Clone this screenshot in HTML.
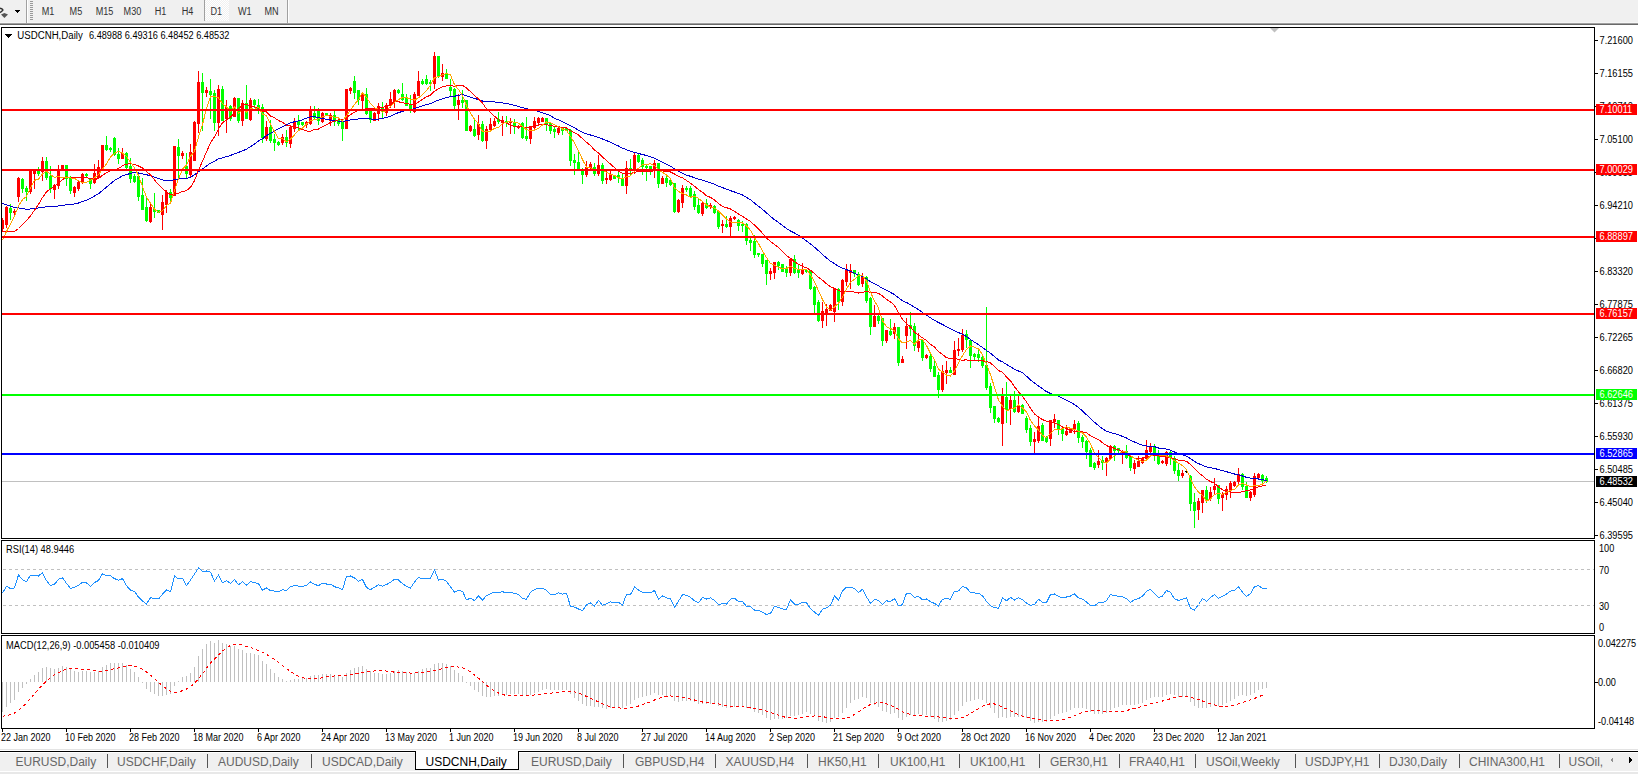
<!DOCTYPE html>
<html><head><meta charset="utf-8"><title>USDCNH,Daily</title>
<style>
html,body{margin:0;padding:0;background:#fff;width:1638px;height:774px;overflow:hidden}
svg{position:absolute;left:0;top:0;display:block}
text{font-family:"Liberation Sans", sans-serif}
</style></head><body>
<svg width="1638" height="774" viewBox="0 0 1638 774" shape-rendering="crispEdges">
<rect x="0" y="0" width="1638" height="23" fill="#f0f0f0"/><rect x="0" y="22" width="1638" height="1" fill="#f6f6f6"/><rect x="0" y="23" width="1638" height="1" fill="#a0a0a0"/><rect x="0" y="24" width="1638" height="1" fill="#696969"/><rect x="26" y="0" width="1" height="23" fill="#a0a0a0"/><rect x="27" y="0" width="1" height="23" fill="#ffffff"/><rect x="287" y="0" width="1" height="23" fill="#a0a0a0"/><rect x="288" y="0" width="1" height="23" fill="#ffffff"/><rect x="30" y="1" width="3" height="1" fill="#999"/><rect x="30" y="3" width="3" height="1" fill="#999"/><rect x="30" y="5" width="3" height="1" fill="#999"/><rect x="30" y="7" width="3" height="1" fill="#999"/><rect x="30" y="9" width="3" height="1" fill="#999"/><rect x="30" y="11" width="3" height="1" fill="#999"/><rect x="30" y="13" width="3" height="1" fill="#999"/><rect x="30" y="15" width="3" height="1" fill="#999"/><rect x="30" y="17" width="3" height="1" fill="#999"/><rect x="30" y="19" width="3" height="1" fill="#999"/><defs><pattern id="dith" width="2" height="2" patternUnits="userSpaceOnUse"><rect width="2" height="2" fill="#f0f0f0"/><rect width="1" height="1" fill="#ffffff"/><rect x="1" y="1" width="1" height="1" fill="#ffffff"/></pattern><clipPath id="mainclip"><rect x="2" y="28" width="1592" height="510"/></clipPath></defs><rect x="205" y="0" width="24" height="21" fill="url(#dith)"/><rect x="204" y="0" width="1" height="21" fill="#a0a0a0"/><path d="M15 10 L20 10 L17.5 13 Z" fill="#000"/><path d="M0 8.2 Q3.6 9.2 2.6 10.6 L0 12.6" fill="none" stroke="#333" stroke-width="1.4" shape-rendering="auto"/><path d="M1 14.4 L4.4 13 L8 14.4 L4.4 18 Z" fill="#555" shape-rendering="auto"/><rect x="1.5" y="27.5" width="1593" height="511" fill="none" stroke="#000" stroke-width="1"/><rect x="1.5" y="540.5" width="1593" height="93" fill="none" stroke="#000" stroke-width="1"/><rect x="1.5" y="635.5" width="1593" height="93" fill="none" stroke="#000" stroke-width="1"/><rect x="1595" y="40" width="3" height="1" fill="#000"/><rect x="1595" y="73" width="3" height="1" fill="#000"/><rect x="1595" y="106" width="3" height="1" fill="#000"/><rect x="1595" y="139" width="3" height="1" fill="#000"/><rect x="1595" y="172" width="3" height="1" fill="#000"/><rect x="1595" y="205" width="3" height="1" fill="#000"/><rect x="1595" y="238" width="3" height="1" fill="#000"/><rect x="1595" y="271" width="3" height="1" fill="#000"/><rect x="1595" y="304" width="3" height="1" fill="#000"/><rect x="1595" y="337" width="3" height="1" fill="#000"/><rect x="1595" y="370" width="3" height="1" fill="#000"/><rect x="1595" y="403" width="3" height="1" fill="#000"/><rect x="1595" y="436" width="3" height="1" fill="#000"/><rect x="1595" y="469" width="3" height="1" fill="#000"/><rect x="1595" y="502" width="3" height="1" fill="#000"/><rect x="1595" y="535" width="3" height="1" fill="#000"/><rect x="2" y="729" width="1" height="3" fill="#000"/><rect x="66" y="729" width="1" height="3" fill="#000"/><rect x="130" y="729" width="1" height="3" fill="#000"/><rect x="194" y="729" width="1" height="3" fill="#000"/><rect x="258" y="729" width="1" height="3" fill="#000"/><rect x="322" y="729" width="1" height="3" fill="#000"/><rect x="386" y="729" width="1" height="3" fill="#000"/><rect x="450" y="729" width="1" height="3" fill="#000"/><rect x="514" y="729" width="1" height="3" fill="#000"/><rect x="578" y="729" width="1" height="3" fill="#000"/><rect x="642" y="729" width="1" height="3" fill="#000"/><rect x="706" y="729" width="1" height="3" fill="#000"/><rect x="770" y="729" width="1" height="3" fill="#000"/><rect x="834" y="729" width="1" height="3" fill="#000"/><rect x="898" y="729" width="1" height="3" fill="#000"/><rect x="962" y="729" width="1" height="3" fill="#000"/><rect x="1026" y="729" width="1" height="3" fill="#000"/><rect x="1090" y="729" width="1" height="3" fill="#000"/><rect x="1154" y="729" width="1" height="3" fill="#000"/><rect x="1218" y="729" width="1" height="3" fill="#000"/><g stroke="#c0c0c0" stroke-width="1" stroke-dasharray="3,3"><line x1="3" y1="569.5" x2="1594" y2="569.5"/><line x1="3" y1="605.5" x2="1594" y2="605.5"/></g><rect x="1595" y="682" width="3" height="1" fill="#000"/><path d="M5 34 L12 34 L8.5 38 Z" fill="#000"/><path d="M1270 28 L1279 28 L1274.5 32.5 Z" fill="#c0c0c0" shape-rendering="auto"/><rect x="2" y="481" width="1592" height="1" fill="#c0c0c0"/>
<g clip-path="url(#mainclip)"><rect x="2" y="218" width="1" height="13" fill="#ff0000"/><rect x="1" y="220" width="3" height="9" fill="#ff0000"/><rect x="6" y="206" width="1" height="22" fill="#ff0000"/><rect x="5" y="207" width="3" height="18" fill="#ff0000"/><rect x="10" y="204" width="1" height="16" fill="#00ff00"/><rect x="9" y="208" width="3" height="5" fill="#00ff00"/><rect x="14" y="209" width="1" height="6" fill="#ff0000"/><rect x="13" y="211" width="3" height="2" fill="#ff0000"/><rect x="18" y="177" width="1" height="25" fill="#ff0000"/><rect x="17" y="178" width="3" height="19" fill="#ff0000"/><rect x="22" y="178" width="1" height="15" fill="#00ff00"/><rect x="21" y="179" width="3" height="10" fill="#00ff00"/><rect x="26" y="186" width="1" height="15" fill="#00ff00"/><rect x="25" y="188" width="3" height="4" fill="#00ff00"/><rect x="30" y="171" width="1" height="23" fill="#ff0000"/><rect x="29" y="171" width="3" height="21" fill="#ff0000"/><rect x="34" y="171" width="1" height="18" fill="#ff0000"/><rect x="33" y="171" width="3" height="3" fill="#ff0000"/><rect x="38" y="167" width="1" height="9" fill="#00ff00"/><rect x="37" y="170" width="3" height="4" fill="#00ff00"/><rect x="42" y="157" width="1" height="24" fill="#ff0000"/><rect x="41" y="161" width="3" height="11" fill="#ff0000"/><rect x="46" y="157" width="1" height="23" fill="#00ff00"/><rect x="45" y="161" width="3" height="17" fill="#00ff00"/><rect x="50" y="166" width="1" height="27" fill="#00ff00"/><rect x="49" y="176" width="3" height="13" fill="#00ff00"/><rect x="54" y="184" width="1" height="15" fill="#ff0000"/><rect x="53" y="185" width="3" height="5" fill="#ff0000"/><rect x="58" y="165" width="1" height="24" fill="#ff0000"/><rect x="57" y="170" width="3" height="16" fill="#ff0000"/><rect x="62" y="165" width="1" height="6" fill="#ff0000"/><rect x="61" y="165" width="3" height="6" fill="#ff0000"/><rect x="66" y="165" width="1" height="21" fill="#00ff00"/><rect x="65" y="165" width="3" height="14" fill="#00ff00"/><rect x="70" y="176" width="1" height="18" fill="#00ff00"/><rect x="69" y="177" width="3" height="14" fill="#00ff00"/><rect x="74" y="186" width="1" height="11" fill="#ff0000"/><rect x="73" y="187" width="3" height="6" fill="#ff0000"/><rect x="78" y="180" width="1" height="11" fill="#ff0000"/><rect x="77" y="182" width="3" height="7" fill="#ff0000"/><rect x="82" y="173" width="1" height="11" fill="#ff0000"/><rect x="81" y="174" width="3" height="8" fill="#ff0000"/><rect x="86" y="173" width="1" height="4" fill="#00ff00"/><rect x="85" y="174" width="3" height="2" fill="#00ff00"/><rect x="90" y="178" width="1" height="11" fill="#00ff00"/><rect x="89" y="179" width="3" height="5" fill="#00ff00"/><rect x="94" y="164" width="1" height="20" fill="#ff0000"/><rect x="93" y="173" width="3" height="10" fill="#ff0000"/><rect x="98" y="160" width="1" height="19" fill="#ff0000"/><rect x="97" y="167" width="3" height="11" fill="#ff0000"/><rect x="102" y="145" width="1" height="26" fill="#ff0000"/><rect x="101" y="145" width="3" height="26" fill="#ff0000"/><rect x="106" y="136" width="1" height="15" fill="#00ff00"/><rect x="105" y="145" width="3" height="5" fill="#00ff00"/><rect x="110" y="147" width="1" height="5" fill="#00ff00"/><rect x="109" y="148" width="3" height="2" fill="#00ff00"/><rect x="114" y="137" width="1" height="19" fill="#00ff00"/><rect x="113" y="138" width="3" height="17" fill="#00ff00"/><rect x="118" y="148" width="1" height="16" fill="#00ff00"/><rect x="117" y="154" width="3" height="5" fill="#00ff00"/><rect x="122" y="148" width="1" height="11" fill="#ff0000"/><rect x="121" y="153" width="3" height="6" fill="#ff0000"/><rect x="126" y="152" width="1" height="17" fill="#00ff00"/><rect x="125" y="153" width="3" height="15" fill="#00ff00"/><rect x="130" y="158" width="1" height="25" fill="#00ff00"/><rect x="129" y="166" width="3" height="13" fill="#00ff00"/><rect x="134" y="174" width="1" height="9" fill="#00ff00"/><rect x="133" y="176" width="3" height="6" fill="#00ff00"/><rect x="138" y="176" width="1" height="25" fill="#00ff00"/><rect x="137" y="176" width="3" height="21" fill="#00ff00"/><rect x="142" y="178" width="1" height="32" fill="#00ff00"/><rect x="141" y="195" width="3" height="15" fill="#00ff00"/><rect x="146" y="198" width="1" height="24" fill="#00ff00"/><rect x="145" y="207" width="3" height="14" fill="#00ff00"/><rect x="150" y="204" width="1" height="19" fill="#ff0000"/><rect x="149" y="207" width="3" height="15" fill="#ff0000"/><rect x="154" y="193" width="1" height="25" fill="#00ff00"/><rect x="153" y="209" width="3" height="3" fill="#00ff00"/><rect x="158" y="210" width="1" height="3" fill="#00ff00"/><rect x="157" y="210" width="3" height="3" fill="#00ff00"/><rect x="162" y="195" width="1" height="35" fill="#ff0000"/><rect x="161" y="202" width="3" height="13" fill="#ff0000"/><rect x="166" y="190" width="1" height="23" fill="#ff0000"/><rect x="165" y="192" width="3" height="13" fill="#ff0000"/><rect x="170" y="189" width="1" height="13" fill="#00ff00"/><rect x="169" y="192" width="3" height="6" fill="#00ff00"/><rect x="174" y="146" width="1" height="50" fill="#ff0000"/><rect x="173" y="146" width="3" height="50" fill="#ff0000"/><rect x="178" y="139" width="1" height="39" fill="#00ff00"/><rect x="177" y="147" width="3" height="9" fill="#00ff00"/><rect x="182" y="151" width="1" height="8" fill="#ff0000"/><rect x="181" y="153" width="3" height="3" fill="#ff0000"/><rect x="186" y="153" width="1" height="25" fill="#00ff00"/><rect x="185" y="166" width="3" height="8" fill="#00ff00"/><rect x="190" y="144" width="1" height="33" fill="#ff0000"/><rect x="189" y="152" width="3" height="23" fill="#ff0000"/><rect x="194" y="121" width="1" height="40" fill="#ff0000"/><rect x="193" y="122" width="3" height="39" fill="#ff0000"/><rect x="198" y="71" width="1" height="62" fill="#ff0000"/><rect x="197" y="82" width="3" height="42" fill="#ff0000"/><rect x="202" y="73" width="1" height="58" fill="#00ff00"/><rect x="201" y="82" width="3" height="11" fill="#00ff00"/><rect x="206" y="87" width="1" height="10" fill="#ff0000"/><rect x="205" y="90" width="3" height="3" fill="#ff0000"/><rect x="210" y="79" width="1" height="40" fill="#00ff00"/><rect x="209" y="91" width="3" height="4" fill="#00ff00"/><rect x="214" y="90" width="1" height="41" fill="#00ff00"/><rect x="213" y="93" width="3" height="30" fill="#00ff00"/><rect x="218" y="85" width="1" height="51" fill="#ff0000"/><rect x="217" y="89" width="3" height="34" fill="#ff0000"/><rect x="222" y="86" width="1" height="35" fill="#00ff00"/><rect x="221" y="89" width="3" height="32" fill="#00ff00"/><rect x="226" y="100" width="1" height="33" fill="#ff0000"/><rect x="225" y="107" width="3" height="12" fill="#ff0000"/><rect x="230" y="105" width="1" height="16" fill="#00ff00"/><rect x="229" y="106" width="3" height="13" fill="#00ff00"/><rect x="234" y="97" width="1" height="20" fill="#ff0000"/><rect x="233" y="98" width="3" height="19" fill="#ff0000"/><rect x="238" y="98" width="1" height="25" fill="#00ff00"/><rect x="237" y="98" width="3" height="23" fill="#00ff00"/><rect x="242" y="100" width="1" height="26" fill="#ff0000"/><rect x="241" y="103" width="3" height="18" fill="#ff0000"/><rect x="246" y="85" width="1" height="34" fill="#00ff00"/><rect x="245" y="103" width="3" height="16" fill="#00ff00"/><rect x="250" y="98" width="1" height="23" fill="#ff0000"/><rect x="249" y="100" width="3" height="20" fill="#ff0000"/><rect x="254" y="99" width="1" height="9" fill="#00ff00"/><rect x="253" y="100" width="3" height="5" fill="#00ff00"/><rect x="258" y="99" width="1" height="15" fill="#00ff00"/><rect x="257" y="105" width="3" height="4" fill="#00ff00"/><rect x="262" y="104" width="1" height="39" fill="#00ff00"/><rect x="261" y="107" width="3" height="31" fill="#00ff00"/><rect x="266" y="121" width="1" height="20" fill="#ff0000"/><rect x="265" y="127" width="3" height="12" fill="#ff0000"/><rect x="270" y="120" width="1" height="23" fill="#00ff00"/><rect x="269" y="127" width="3" height="14" fill="#00ff00"/><rect x="274" y="134" width="1" height="17" fill="#00ff00"/><rect x="273" y="139" width="3" height="4" fill="#00ff00"/><rect x="278" y="141" width="1" height="5" fill="#00ff00"/><rect x="277" y="142" width="3" height="3" fill="#00ff00"/><rect x="282" y="134" width="1" height="11" fill="#ff0000"/><rect x="281" y="137" width="3" height="6" fill="#ff0000"/><rect x="286" y="130" width="1" height="17" fill="#00ff00"/><rect x="285" y="137" width="3" height="6" fill="#00ff00"/><rect x="290" y="125" width="1" height="23" fill="#ff0000"/><rect x="289" y="127" width="3" height="17" fill="#ff0000"/><rect x="294" y="118" width="1" height="14" fill="#ff0000"/><rect x="293" y="121" width="3" height="8" fill="#ff0000"/><rect x="298" y="115" width="1" height="16" fill="#00ff00"/><rect x="297" y="121" width="3" height="4" fill="#00ff00"/><rect x="302" y="122" width="1" height="4" fill="#00ff00"/><rect x="301" y="122" width="3" height="3" fill="#00ff00"/><rect x="306" y="121" width="1" height="7" fill="#ff0000"/><rect x="305" y="122" width="3" height="3" fill="#ff0000"/><rect x="310" y="106" width="1" height="19" fill="#ff0000"/><rect x="309" y="110" width="3" height="14" fill="#ff0000"/><rect x="314" y="106" width="1" height="13" fill="#00ff00"/><rect x="313" y="113" width="3" height="5" fill="#00ff00"/><rect x="318" y="108" width="1" height="17" fill="#00ff00"/><rect x="317" y="110" width="3" height="11" fill="#00ff00"/><rect x="322" y="112" width="1" height="11" fill="#ff0000"/><rect x="321" y="113" width="3" height="9" fill="#ff0000"/><rect x="326" y="113" width="1" height="3" fill="#00ff00"/><rect x="325" y="113" width="3" height="3" fill="#00ff00"/><rect x="330" y="113" width="1" height="13" fill="#ff0000"/><rect x="329" y="115" width="3" height="6" fill="#ff0000"/><rect x="334" y="111" width="1" height="15" fill="#00ff00"/><rect x="333" y="115" width="3" height="7" fill="#00ff00"/><rect x="338" y="119" width="1" height="7" fill="#00ff00"/><rect x="337" y="120" width="3" height="4" fill="#00ff00"/><rect x="342" y="121" width="1" height="20" fill="#00ff00"/><rect x="341" y="122" width="3" height="7" fill="#00ff00"/><rect x="346" y="89" width="1" height="40" fill="#ff0000"/><rect x="345" y="89" width="3" height="40" fill="#ff0000"/><rect x="350" y="87" width="1" height="7" fill="#ff0000"/><rect x="349" y="88" width="3" height="3" fill="#ff0000"/><rect x="354" y="76" width="1" height="23" fill="#00ff00"/><rect x="353" y="81" width="3" height="12" fill="#00ff00"/><rect x="358" y="90" width="1" height="15" fill="#00ff00"/><rect x="357" y="90" width="3" height="10" fill="#00ff00"/><rect x="362" y="93" width="1" height="16" fill="#ff0000"/><rect x="361" y="93" width="3" height="8" fill="#ff0000"/><rect x="366" y="88" width="1" height="27" fill="#00ff00"/><rect x="365" y="94" width="3" height="20" fill="#00ff00"/><rect x="370" y="110" width="1" height="13" fill="#00ff00"/><rect x="369" y="111" width="3" height="9" fill="#00ff00"/><rect x="374" y="112" width="1" height="9" fill="#ff0000"/><rect x="373" y="113" width="3" height="8" fill="#ff0000"/><rect x="378" y="103" width="1" height="18" fill="#ff0000"/><rect x="377" y="106" width="3" height="8" fill="#ff0000"/><rect x="382" y="102" width="1" height="16" fill="#00ff00"/><rect x="381" y="107" width="3" height="3" fill="#00ff00"/><rect x="386" y="103" width="1" height="13" fill="#ff0000"/><rect x="385" y="105" width="3" height="8" fill="#ff0000"/><rect x="390" y="92" width="1" height="16" fill="#ff0000"/><rect x="389" y="99" width="3" height="7" fill="#ff0000"/><rect x="394" y="89" width="1" height="19" fill="#ff0000"/><rect x="393" y="90" width="3" height="12" fill="#ff0000"/><rect x="398" y="89" width="1" height="5" fill="#00ff00"/><rect x="397" y="90" width="3" height="3" fill="#00ff00"/><rect x="402" y="83" width="1" height="18" fill="#00ff00"/><rect x="401" y="94" width="3" height="6" fill="#00ff00"/><rect x="406" y="94" width="1" height="12" fill="#00ff00"/><rect x="405" y="98" width="3" height="8" fill="#00ff00"/><rect x="410" y="95" width="1" height="18" fill="#00ff00"/><rect x="409" y="105" width="3" height="4" fill="#00ff00"/><rect x="414" y="92" width="1" height="21" fill="#ff0000"/><rect x="413" y="94" width="3" height="18" fill="#ff0000"/><rect x="418" y="71" width="1" height="25" fill="#ff0000"/><rect x="417" y="81" width="3" height="15" fill="#ff0000"/><rect x="422" y="79" width="1" height="6" fill="#00ff00"/><rect x="421" y="81" width="3" height="3" fill="#00ff00"/><rect x="426" y="75" width="1" height="10" fill="#00ff00"/><rect x="425" y="79" width="3" height="5" fill="#00ff00"/><rect x="430" y="80" width="1" height="11" fill="#00ff00"/><rect x="429" y="82" width="3" height="2" fill="#00ff00"/><rect x="434" y="52" width="1" height="37" fill="#ff0000"/><rect x="433" y="56" width="3" height="28" fill="#ff0000"/><rect x="438" y="56" width="1" height="22" fill="#00ff00"/><rect x="437" y="56" width="3" height="21" fill="#00ff00"/><rect x="442" y="64" width="1" height="17" fill="#ff0000"/><rect x="441" y="73" width="3" height="4" fill="#ff0000"/><rect x="446" y="69" width="1" height="10" fill="#00ff00"/><rect x="445" y="73" width="3" height="6" fill="#00ff00"/><rect x="450" y="79" width="1" height="17" fill="#00ff00"/><rect x="449" y="87" width="3" height="4" fill="#00ff00"/><rect x="454" y="88" width="1" height="22" fill="#00ff00"/><rect x="453" y="89" width="3" height="17" fill="#00ff00"/><rect x="458" y="94" width="1" height="26" fill="#ff0000"/><rect x="457" y="100" width="3" height="5" fill="#ff0000"/><rect x="462" y="90" width="1" height="18" fill="#00ff00"/><rect x="461" y="100" width="3" height="3" fill="#00ff00"/><rect x="466" y="100" width="1" height="31" fill="#00ff00"/><rect x="465" y="100" width="3" height="31" fill="#00ff00"/><rect x="470" y="125" width="1" height="7" fill="#ff0000"/><rect x="469" y="126" width="3" height="5" fill="#ff0000"/><rect x="474" y="119" width="1" height="18" fill="#00ff00"/><rect x="473" y="129" width="3" height="7" fill="#00ff00"/><rect x="478" y="115" width="1" height="25" fill="#ff0000"/><rect x="477" y="124" width="3" height="11" fill="#ff0000"/><rect x="482" y="121" width="1" height="21" fill="#00ff00"/><rect x="481" y="124" width="3" height="17" fill="#00ff00"/><rect x="486" y="126" width="1" height="23" fill="#ff0000"/><rect x="485" y="129" width="3" height="12" fill="#ff0000"/><rect x="490" y="118" width="1" height="13" fill="#ff0000"/><rect x="489" y="124" width="3" height="6" fill="#ff0000"/><rect x="494" y="118" width="1" height="9" fill="#ff0000"/><rect x="493" y="121" width="3" height="5" fill="#ff0000"/><rect x="498" y="112" width="1" height="12" fill="#00ff00"/><rect x="497" y="119" width="3" height="3" fill="#00ff00"/><rect x="502" y="116" width="1" height="20" fill="#ff0000"/><rect x="501" y="120" width="3" height="3" fill="#ff0000"/><rect x="506" y="116" width="1" height="11" fill="#00ff00"/><rect x="505" y="121" width="3" height="2" fill="#00ff00"/><rect x="510" y="118" width="1" height="16" fill="#ff0000"/><rect x="509" y="121" width="3" height="2" fill="#ff0000"/><rect x="514" y="119" width="1" height="15" fill="#00ff00"/><rect x="513" y="122" width="3" height="4" fill="#00ff00"/><rect x="518" y="125" width="1" height="4" fill="#ff0000"/><rect x="517" y="126" width="3" height="2" fill="#ff0000"/><rect x="522" y="122" width="1" height="17" fill="#00ff00"/><rect x="521" y="123" width="3" height="15" fill="#00ff00"/><rect x="526" y="117" width="1" height="24" fill="#00ff00"/><rect x="525" y="136" width="3" height="3" fill="#00ff00"/><rect x="530" y="126" width="1" height="18" fill="#ff0000"/><rect x="529" y="126" width="3" height="13" fill="#ff0000"/><rect x="534" y="117" width="1" height="13" fill="#ff0000"/><rect x="533" y="121" width="3" height="7" fill="#ff0000"/><rect x="538" y="117" width="1" height="9" fill="#ff0000"/><rect x="537" y="118" width="3" height="5" fill="#ff0000"/><rect x="542" y="117" width="1" height="5" fill="#ff0000"/><rect x="541" y="118" width="3" height="4" fill="#ff0000"/><rect x="546" y="118" width="1" height="13" fill="#00ff00"/><rect x="545" y="118" width="3" height="6" fill="#00ff00"/><rect x="550" y="122" width="1" height="12" fill="#00ff00"/><rect x="549" y="123" width="3" height="8" fill="#00ff00"/><rect x="554" y="126" width="1" height="12" fill="#00ff00"/><rect x="553" y="129" width="3" height="3" fill="#00ff00"/><rect x="558" y="127" width="1" height="8" fill="#ff0000"/><rect x="557" y="128" width="3" height="5" fill="#ff0000"/><rect x="562" y="128" width="1" height="7" fill="#00ff00"/><rect x="561" y="128" width="3" height="3" fill="#00ff00"/><rect x="566" y="128" width="1" height="3" fill="#00ff00"/><rect x="565" y="128" width="3" height="3" fill="#00ff00"/><rect x="570" y="129" width="1" height="37" fill="#00ff00"/><rect x="569" y="130" width="3" height="31" fill="#00ff00"/><rect x="574" y="154" width="1" height="21" fill="#00ff00"/><rect x="573" y="160" width="3" height="3" fill="#00ff00"/><rect x="578" y="152" width="1" height="19" fill="#00ff00"/><rect x="577" y="162" width="3" height="8" fill="#00ff00"/><rect x="582" y="168" width="1" height="16" fill="#00ff00"/><rect x="581" y="170" width="3" height="5" fill="#00ff00"/><rect x="586" y="161" width="1" height="16" fill="#ff0000"/><rect x="585" y="167" width="3" height="8" fill="#ff0000"/><rect x="590" y="162" width="1" height="7" fill="#ff0000"/><rect x="589" y="164" width="3" height="4" fill="#ff0000"/><rect x="594" y="163" width="1" height="13" fill="#00ff00"/><rect x="593" y="167" width="3" height="7" fill="#00ff00"/><rect x="598" y="155" width="1" height="21" fill="#ff0000"/><rect x="597" y="165" width="3" height="9" fill="#ff0000"/><rect x="602" y="163" width="1" height="21" fill="#00ff00"/><rect x="601" y="165" width="3" height="16" fill="#00ff00"/><rect x="606" y="171" width="1" height="13" fill="#ff0000"/><rect x="605" y="178" width="3" height="2" fill="#ff0000"/><rect x="610" y="170" width="1" height="11" fill="#ff0000"/><rect x="609" y="175" width="3" height="5" fill="#ff0000"/><rect x="614" y="175" width="1" height="4" fill="#00ff00"/><rect x="613" y="176" width="3" height="3" fill="#00ff00"/><rect x="618" y="170" width="1" height="13" fill="#00ff00"/><rect x="617" y="175" width="3" height="2" fill="#00ff00"/><rect x="622" y="174" width="1" height="12" fill="#00ff00"/><rect x="621" y="178" width="3" height="8" fill="#00ff00"/><rect x="626" y="161" width="1" height="33" fill="#ff0000"/><rect x="625" y="168" width="3" height="18" fill="#ff0000"/><rect x="630" y="159" width="1" height="16" fill="#00ff00"/><rect x="629" y="168" width="3" height="2" fill="#00ff00"/><rect x="634" y="153" width="1" height="21" fill="#ff0000"/><rect x="633" y="155" width="3" height="16" fill="#ff0000"/><rect x="638" y="154" width="1" height="9" fill="#00ff00"/><rect x="637" y="155" width="3" height="7" fill="#00ff00"/><rect x="642" y="158" width="1" height="17" fill="#00ff00"/><rect x="641" y="160" width="3" height="7" fill="#00ff00"/><rect x="646" y="165" width="1" height="16" fill="#00ff00"/><rect x="645" y="166" width="3" height="2" fill="#00ff00"/><rect x="650" y="166" width="1" height="9" fill="#00ff00"/><rect x="649" y="166" width="3" height="3" fill="#00ff00"/><rect x="654" y="160" width="1" height="18" fill="#ff0000"/><rect x="653" y="163" width="3" height="6" fill="#ff0000"/><rect x="658" y="163" width="1" height="25" fill="#00ff00"/><rect x="657" y="163" width="3" height="21" fill="#00ff00"/><rect x="662" y="176" width="1" height="8" fill="#ff0000"/><rect x="661" y="178" width="3" height="6" fill="#ff0000"/><rect x="666" y="176" width="1" height="11" fill="#00ff00"/><rect x="665" y="178" width="3" height="5" fill="#00ff00"/><rect x="670" y="178" width="1" height="8" fill="#00ff00"/><rect x="669" y="180" width="3" height="5" fill="#00ff00"/><rect x="674" y="183" width="1" height="30" fill="#00ff00"/><rect x="673" y="183" width="3" height="29" fill="#00ff00"/><rect x="678" y="199" width="1" height="14" fill="#ff0000"/><rect x="677" y="200" width="3" height="12" fill="#ff0000"/><rect x="682" y="185" width="1" height="23" fill="#ff0000"/><rect x="681" y="188" width="3" height="15" fill="#ff0000"/><rect x="686" y="186" width="1" height="6" fill="#00ff00"/><rect x="685" y="188" width="3" height="2" fill="#00ff00"/><rect x="690" y="186" width="1" height="12" fill="#00ff00"/><rect x="689" y="188" width="3" height="9" fill="#00ff00"/><rect x="694" y="191" width="1" height="19" fill="#00ff00"/><rect x="693" y="194" width="3" height="13" fill="#00ff00"/><rect x="698" y="198" width="1" height="16" fill="#00ff00"/><rect x="697" y="205" width="3" height="8" fill="#00ff00"/><rect x="702" y="202" width="1" height="14" fill="#ff0000"/><rect x="701" y="203" width="3" height="11" fill="#ff0000"/><rect x="706" y="199" width="1" height="10" fill="#00ff00"/><rect x="705" y="203" width="3" height="5" fill="#00ff00"/><rect x="710" y="203" width="1" height="6" fill="#ff0000"/><rect x="709" y="205" width="3" height="2" fill="#ff0000"/><rect x="714" y="205" width="1" height="9" fill="#00ff00"/><rect x="713" y="206" width="3" height="7" fill="#00ff00"/><rect x="718" y="210" width="1" height="19" fill="#00ff00"/><rect x="717" y="211" width="3" height="16" fill="#00ff00"/><rect x="722" y="220" width="1" height="13" fill="#ff0000"/><rect x="721" y="224" width="3" height="2" fill="#ff0000"/><rect x="726" y="216" width="1" height="12" fill="#00ff00"/><rect x="725" y="224" width="3" height="3" fill="#00ff00"/><rect x="730" y="216" width="1" height="21" fill="#ff0000"/><rect x="729" y="218" width="3" height="9" fill="#ff0000"/><rect x="734" y="216" width="1" height="4" fill="#ff0000"/><rect x="733" y="217" width="3" height="2" fill="#ff0000"/><rect x="738" y="219" width="1" height="12" fill="#00ff00"/><rect x="737" y="220" width="3" height="6" fill="#00ff00"/><rect x="742" y="221" width="1" height="11" fill="#00ff00"/><rect x="741" y="224" width="3" height="2" fill="#00ff00"/><rect x="746" y="223" width="1" height="22" fill="#00ff00"/><rect x="745" y="224" width="3" height="17" fill="#00ff00"/><rect x="750" y="238" width="1" height="13" fill="#00ff00"/><rect x="749" y="240" width="3" height="3" fill="#00ff00"/><rect x="754" y="235" width="1" height="23" fill="#00ff00"/><rect x="753" y="241" width="3" height="14" fill="#00ff00"/><rect x="758" y="253" width="1" height="4" fill="#00ff00"/><rect x="757" y="253" width="3" height="2" fill="#00ff00"/><rect x="762" y="254" width="1" height="13" fill="#00ff00"/><rect x="761" y="254" width="3" height="10" fill="#00ff00"/><rect x="766" y="260" width="1" height="25" fill="#00ff00"/><rect x="765" y="260" width="3" height="14" fill="#00ff00"/><rect x="770" y="268" width="1" height="12" fill="#ff0000"/><rect x="769" y="271" width="3" height="3" fill="#ff0000"/><rect x="774" y="262" width="1" height="17" fill="#ff0000"/><rect x="773" y="262" width="3" height="11" fill="#ff0000"/><rect x="778" y="261" width="1" height="9" fill="#00ff00"/><rect x="777" y="262" width="3" height="4" fill="#00ff00"/><rect x="782" y="264" width="1" height="8" fill="#00ff00"/><rect x="781" y="264" width="3" height="8" fill="#00ff00"/><rect x="786" y="266" width="1" height="11" fill="#00ff00"/><rect x="785" y="268" width="3" height="5" fill="#00ff00"/><rect x="790" y="258" width="1" height="18" fill="#ff0000"/><rect x="789" y="259" width="3" height="14" fill="#ff0000"/><rect x="794" y="255" width="1" height="19" fill="#00ff00"/><rect x="793" y="259" width="3" height="14" fill="#00ff00"/><rect x="798" y="265" width="1" height="13" fill="#00ff00"/><rect x="797" y="270" width="3" height="3" fill="#00ff00"/><rect x="802" y="263" width="1" height="12" fill="#ff0000"/><rect x="801" y="269" width="3" height="5" fill="#ff0000"/><rect x="806" y="269" width="1" height="4" fill="#00ff00"/><rect x="805" y="270" width="3" height="2" fill="#00ff00"/><rect x="810" y="270" width="1" height="20" fill="#00ff00"/><rect x="809" y="270" width="3" height="19" fill="#00ff00"/><rect x="814" y="286" width="1" height="27" fill="#00ff00"/><rect x="813" y="287" width="3" height="18" fill="#00ff00"/><rect x="818" y="300" width="1" height="22" fill="#00ff00"/><rect x="817" y="302" width="3" height="19" fill="#00ff00"/><rect x="822" y="302" width="1" height="26" fill="#ff0000"/><rect x="821" y="311" width="3" height="10" fill="#ff0000"/><rect x="826" y="304" width="1" height="22" fill="#ff0000"/><rect x="825" y="309" width="3" height="5" fill="#ff0000"/><rect x="830" y="304" width="1" height="7" fill="#ff0000"/><rect x="829" y="305" width="3" height="6" fill="#ff0000"/><rect x="834" y="288" width="1" height="34" fill="#ff0000"/><rect x="833" y="288" width="3" height="24" fill="#ff0000"/><rect x="838" y="288" width="1" height="22" fill="#00ff00"/><rect x="837" y="289" width="3" height="13" fill="#00ff00"/><rect x="842" y="279" width="1" height="27" fill="#ff0000"/><rect x="841" y="280" width="3" height="22" fill="#ff0000"/><rect x="846" y="264" width="1" height="22" fill="#ff0000"/><rect x="845" y="270" width="3" height="12" fill="#ff0000"/><rect x="850" y="264" width="1" height="25" fill="#ff0000"/><rect x="849" y="270" width="3" height="3" fill="#ff0000"/><rect x="854" y="270" width="1" height="7" fill="#00ff00"/><rect x="853" y="270" width="3" height="4" fill="#00ff00"/><rect x="858" y="272" width="1" height="14" fill="#00ff00"/><rect x="857" y="274" width="3" height="11" fill="#00ff00"/><rect x="862" y="273" width="1" height="14" fill="#ff0000"/><rect x="861" y="276" width="3" height="8" fill="#ff0000"/><rect x="866" y="276" width="1" height="27" fill="#00ff00"/><rect x="865" y="277" width="3" height="24" fill="#00ff00"/><rect x="870" y="297" width="1" height="38" fill="#00ff00"/><rect x="869" y="298" width="3" height="29" fill="#00ff00"/><rect x="874" y="305" width="1" height="22" fill="#ff0000"/><rect x="873" y="316" width="3" height="11" fill="#ff0000"/><rect x="878" y="315" width="1" height="9" fill="#00ff00"/><rect x="877" y="316" width="3" height="5" fill="#00ff00"/><rect x="882" y="318" width="1" height="28" fill="#00ff00"/><rect x="881" y="318" width="3" height="23" fill="#00ff00"/><rect x="886" y="330" width="1" height="13" fill="#ff0000"/><rect x="885" y="330" width="3" height="11" fill="#ff0000"/><rect x="890" y="319" width="1" height="17" fill="#00ff00"/><rect x="889" y="331" width="3" height="4" fill="#00ff00"/><rect x="894" y="323" width="1" height="16" fill="#ff0000"/><rect x="893" y="327" width="3" height="7" fill="#ff0000"/><rect x="898" y="327" width="1" height="39" fill="#00ff00"/><rect x="897" y="327" width="3" height="36" fill="#00ff00"/><rect x="902" y="356" width="1" height="7" fill="#ff0000"/><rect x="901" y="359" width="3" height="4" fill="#ff0000"/><rect x="906" y="318" width="1" height="31" fill="#ff0000"/><rect x="905" y="326" width="3" height="10" fill="#ff0000"/><rect x="910" y="312" width="1" height="24" fill="#00ff00"/><rect x="909" y="325" width="3" height="4" fill="#00ff00"/><rect x="914" y="323" width="1" height="28" fill="#00ff00"/><rect x="913" y="326" width="3" height="20" fill="#00ff00"/><rect x="918" y="333" width="1" height="19" fill="#ff0000"/><rect x="917" y="341" width="3" height="7" fill="#ff0000"/><rect x="922" y="340" width="1" height="21" fill="#00ff00"/><rect x="921" y="340" width="3" height="18" fill="#00ff00"/><rect x="926" y="354" width="1" height="5" fill="#ff0000"/><rect x="925" y="355" width="3" height="3" fill="#ff0000"/><rect x="930" y="352" width="1" height="20" fill="#00ff00"/><rect x="929" y="356" width="3" height="13" fill="#00ff00"/><rect x="934" y="361" width="1" height="16" fill="#00ff00"/><rect x="933" y="366" width="3" height="11" fill="#00ff00"/><rect x="938" y="372" width="1" height="26" fill="#00ff00"/><rect x="937" y="375" width="3" height="15" fill="#00ff00"/><rect x="942" y="365" width="1" height="27" fill="#ff0000"/><rect x="941" y="371" width="3" height="19" fill="#ff0000"/><rect x="946" y="361" width="1" height="23" fill="#ff0000"/><rect x="945" y="370" width="3" height="3" fill="#ff0000"/><rect x="950" y="367" width="1" height="6" fill="#00ff00"/><rect x="949" y="370" width="3" height="3" fill="#00ff00"/><rect x="954" y="341" width="1" height="34" fill="#ff0000"/><rect x="953" y="350" width="3" height="25" fill="#ff0000"/><rect x="958" y="338" width="1" height="18" fill="#ff0000"/><rect x="957" y="349" width="3" height="2" fill="#ff0000"/><rect x="962" y="329" width="1" height="23" fill="#ff0000"/><rect x="961" y="335" width="3" height="15" fill="#ff0000"/><rect x="966" y="330" width="1" height="18" fill="#00ff00"/><rect x="965" y="334" width="3" height="6" fill="#00ff00"/><rect x="970" y="339" width="1" height="29" fill="#00ff00"/><rect x="969" y="340" width="3" height="16" fill="#00ff00"/><rect x="974" y="353" width="1" height="7" fill="#00ff00"/><rect x="973" y="354" width="3" height="3" fill="#00ff00"/><rect x="978" y="350" width="1" height="12" fill="#00ff00"/><rect x="977" y="354" width="3" height="4" fill="#00ff00"/><rect x="982" y="356" width="1" height="12" fill="#00ff00"/><rect x="981" y="357" width="3" height="9" fill="#00ff00"/><rect x="986" y="307" width="1" height="83" fill="#00ff00"/><rect x="985" y="365" width="3" height="23" fill="#00ff00"/><rect x="990" y="383" width="1" height="30" fill="#00ff00"/><rect x="989" y="386" width="3" height="22" fill="#00ff00"/><rect x="994" y="406" width="1" height="17" fill="#00ff00"/><rect x="993" y="406" width="3" height="13" fill="#00ff00"/><rect x="998" y="417" width="1" height="6" fill="#00ff00"/><rect x="997" y="418" width="3" height="4" fill="#00ff00"/><rect x="1002" y="388" width="1" height="58" fill="#ff0000"/><rect x="1001" y="396" width="3" height="28" fill="#ff0000"/><rect x="1006" y="382" width="1" height="41" fill="#00ff00"/><rect x="1005" y="397" width="3" height="13" fill="#00ff00"/><rect x="1010" y="396" width="1" height="29" fill="#ff0000"/><rect x="1009" y="400" width="3" height="9" fill="#ff0000"/><rect x="1014" y="391" width="1" height="22" fill="#00ff00"/><rect x="1013" y="400" width="3" height="12" fill="#00ff00"/><rect x="1018" y="396" width="1" height="17" fill="#ff0000"/><rect x="1017" y="406" width="3" height="6" fill="#ff0000"/><rect x="1022" y="404" width="1" height="10" fill="#00ff00"/><rect x="1021" y="405" width="3" height="9" fill="#00ff00"/><rect x="1026" y="416" width="1" height="17" fill="#00ff00"/><rect x="1025" y="418" width="3" height="12" fill="#00ff00"/><rect x="1030" y="425" width="1" height="21" fill="#00ff00"/><rect x="1029" y="428" width="3" height="14" fill="#00ff00"/><rect x="1034" y="432" width="1" height="21" fill="#ff0000"/><rect x="1033" y="439" width="3" height="3" fill="#ff0000"/><rect x="1038" y="418" width="1" height="25" fill="#ff0000"/><rect x="1037" y="426" width="3" height="15" fill="#ff0000"/><rect x="1042" y="423" width="1" height="18" fill="#00ff00"/><rect x="1041" y="425" width="3" height="16" fill="#00ff00"/><rect x="1046" y="436" width="1" height="7" fill="#00ff00"/><rect x="1045" y="437" width="3" height="5" fill="#00ff00"/><rect x="1050" y="420" width="1" height="26" fill="#ff0000"/><rect x="1049" y="420" width="3" height="19" fill="#ff0000"/><rect x="1054" y="414" width="1" height="14" fill="#ff0000"/><rect x="1053" y="419" width="3" height="3" fill="#ff0000"/><rect x="1058" y="420" width="1" height="15" fill="#00ff00"/><rect x="1057" y="420" width="3" height="9" fill="#00ff00"/><rect x="1062" y="427" width="1" height="14" fill="#00ff00"/><rect x="1061" y="428" width="3" height="6" fill="#00ff00"/><rect x="1066" y="425" width="1" height="11" fill="#ff0000"/><rect x="1065" y="431" width="3" height="4" fill="#ff0000"/><rect x="1070" y="428" width="1" height="5" fill="#ff0000"/><rect x="1069" y="429" width="3" height="4" fill="#ff0000"/><rect x="1074" y="420" width="1" height="14" fill="#ff0000"/><rect x="1073" y="424" width="3" height="6" fill="#ff0000"/><rect x="1078" y="421" width="1" height="22" fill="#00ff00"/><rect x="1077" y="423" width="3" height="15" fill="#00ff00"/><rect x="1082" y="435" width="1" height="13" fill="#00ff00"/><rect x="1081" y="437" width="3" height="5" fill="#00ff00"/><rect x="1086" y="440" width="1" height="19" fill="#00ff00"/><rect x="1085" y="441" width="3" height="11" fill="#00ff00"/><rect x="1090" y="448" width="1" height="19" fill="#00ff00"/><rect x="1089" y="450" width="3" height="17" fill="#00ff00"/><rect x="1094" y="462" width="1" height="8" fill="#00ff00"/><rect x="1093" y="463" width="3" height="5" fill="#00ff00"/><rect x="1098" y="450" width="1" height="18" fill="#ff0000"/><rect x="1097" y="461" width="3" height="4" fill="#ff0000"/><rect x="1102" y="456" width="1" height="14" fill="#00ff00"/><rect x="1101" y="460" width="3" height="3" fill="#00ff00"/><rect x="1106" y="457" width="1" height="19" fill="#ff0000"/><rect x="1105" y="458" width="3" height="5" fill="#ff0000"/><rect x="1110" y="445" width="1" height="15" fill="#ff0000"/><rect x="1109" y="446" width="3" height="13" fill="#ff0000"/><rect x="1114" y="445" width="1" height="16" fill="#00ff00"/><rect x="1113" y="446" width="3" height="5" fill="#00ff00"/><rect x="1118" y="448" width="1" height="5" fill="#00ff00"/><rect x="1117" y="448" width="3" height="3" fill="#00ff00"/><rect x="1122" y="450" width="1" height="14" fill="#ff0000"/><rect x="1121" y="452" width="3" height="2" fill="#ff0000"/><rect x="1126" y="445" width="1" height="14" fill="#00ff00"/><rect x="1125" y="451" width="3" height="7" fill="#00ff00"/><rect x="1130" y="455" width="1" height="16" fill="#00ff00"/><rect x="1129" y="456" width="3" height="12" fill="#00ff00"/><rect x="1134" y="460" width="1" height="14" fill="#ff0000"/><rect x="1133" y="463" width="3" height="6" fill="#ff0000"/><rect x="1138" y="456" width="1" height="11" fill="#ff0000"/><rect x="1137" y="461" width="3" height="6" fill="#ff0000"/><rect x="1142" y="457" width="1" height="7" fill="#ff0000"/><rect x="1141" y="458" width="3" height="5" fill="#ff0000"/><rect x="1146" y="440" width="1" height="19" fill="#ff0000"/><rect x="1145" y="450" width="3" height="9" fill="#ff0000"/><rect x="1150" y="443" width="1" height="11" fill="#ff0000"/><rect x="1149" y="446" width="3" height="6" fill="#ff0000"/><rect x="1154" y="444" width="1" height="17" fill="#00ff00"/><rect x="1153" y="446" width="3" height="10" fill="#00ff00"/><rect x="1158" y="450" width="1" height="15" fill="#00ff00"/><rect x="1157" y="453" width="3" height="11" fill="#00ff00"/><rect x="1162" y="460" width="1" height="4" fill="#ff0000"/><rect x="1161" y="461" width="3" height="2" fill="#ff0000"/><rect x="1166" y="451" width="1" height="15" fill="#ff0000"/><rect x="1165" y="452" width="3" height="12" fill="#ff0000"/><rect x="1170" y="451" width="1" height="14" fill="#00ff00"/><rect x="1169" y="452" width="3" height="5" fill="#00ff00"/><rect x="1174" y="456" width="1" height="18" fill="#00ff00"/><rect x="1173" y="458" width="3" height="13" fill="#00ff00"/><rect x="1178" y="463" width="1" height="18" fill="#00ff00"/><rect x="1177" y="470" width="3" height="6" fill="#00ff00"/><rect x="1182" y="470" width="1" height="8" fill="#ff0000"/><rect x="1181" y="473" width="3" height="3" fill="#ff0000"/><rect x="1186" y="471" width="1" height="2" fill="#000000"/><rect x="1185" y="471" width="3" height="1" fill="#000000"/><rect x="1190" y="475" width="1" height="36" fill="#00ff00"/><rect x="1189" y="476" width="3" height="28" fill="#00ff00"/><rect x="1194" y="493" width="1" height="35" fill="#00ff00"/><rect x="1193" y="502" width="3" height="9" fill="#00ff00"/><rect x="1198" y="498" width="1" height="22" fill="#ff0000"/><rect x="1197" y="501" width="3" height="9" fill="#ff0000"/><rect x="1202" y="490" width="1" height="23" fill="#ff0000"/><rect x="1201" y="490" width="3" height="13" fill="#ff0000"/><rect x="1206" y="486" width="1" height="17" fill="#00ff00"/><rect x="1205" y="490" width="3" height="10" fill="#00ff00"/><rect x="1210" y="487" width="1" height="14" fill="#ff0000"/><rect x="1209" y="492" width="3" height="7" fill="#ff0000"/><rect x="1214" y="478" width="1" height="16" fill="#ff0000"/><rect x="1213" y="486" width="3" height="4" fill="#ff0000"/><rect x="1218" y="485" width="1" height="19" fill="#00ff00"/><rect x="1217" y="485" width="3" height="14" fill="#00ff00"/><rect x="1222" y="492" width="1" height="19" fill="#ff0000"/><rect x="1221" y="494" width="3" height="4" fill="#ff0000"/><rect x="1226" y="486" width="1" height="14" fill="#ff0000"/><rect x="1225" y="489" width="3" height="6" fill="#ff0000"/><rect x="1230" y="481" width="1" height="17" fill="#ff0000"/><rect x="1229" y="483" width="3" height="7" fill="#ff0000"/><rect x="1234" y="481" width="1" height="6" fill="#ff0000"/><rect x="1233" y="482" width="3" height="4" fill="#ff0000"/><rect x="1238" y="468" width="1" height="17" fill="#ff0000"/><rect x="1237" y="474" width="3" height="8" fill="#ff0000"/><rect x="1242" y="473" width="1" height="17" fill="#00ff00"/><rect x="1241" y="474" width="3" height="13" fill="#00ff00"/><rect x="1246" y="482" width="1" height="16" fill="#00ff00"/><rect x="1245" y="486" width="3" height="12" fill="#00ff00"/><rect x="1250" y="491" width="1" height="10" fill="#ff0000"/><rect x="1249" y="492" width="3" height="6" fill="#ff0000"/><rect x="1254" y="473" width="1" height="24" fill="#ff0000"/><rect x="1253" y="476" width="3" height="19" fill="#ff0000"/><rect x="1258" y="473" width="1" height="6" fill="#ff0000"/><rect x="1257" y="474" width="3" height="4" fill="#ff0000"/><rect x="1262" y="474" width="1" height="9" fill="#00ff00"/><rect x="1261" y="475" width="3" height="6" fill="#00ff00"/><rect x="1266" y="476" width="1" height="7" fill="#00ff00"/><rect x="1265" y="478" width="3" height="4" fill="#00ff00"/><polyline points="2.5,203.5 6.5,204.9 10.5,206.2 14.5,207.6 18.5,207.9 22.5,208.6 26.5,209.3 30.5,209.0 34.5,208.5 38.5,208.0 42.5,207.2 46.5,206.9 50.5,206.8 54.5,206.6 58.5,205.9 62.5,205.2 66.5,204.9 70.5,204.6 74.5,204.0 78.5,203.0 82.5,201.6 86.5,200.1 90.5,198.2 94.5,196.0 98.5,193.7 102.5,190.4 106.5,187.1 110.5,183.7 114.5,180.5 118.5,178.2 122.5,175.9 126.5,174.6 130.5,173.4 134.5,172.5 138.5,173.0 142.5,173.8 146.5,174.7 150.5,175.9 154.5,177.3 158.5,178.6 162.5,179.9 166.5,180.4 170.5,180.7 174.5,179.4 178.5,178.9 182.5,178.5 186.5,178.4 190.5,177.1 194.5,174.9 198.5,171.6 202.5,168.9 206.5,166.1 210.5,163.1 214.5,161.4 218.5,158.8 222.5,158.0 226.5,156.6 230.5,155.5 234.5,153.7 238.5,152.4 242.5,150.8 246.5,149.2 250.5,146.6 254.5,144.0 258.5,141.1 262.5,138.7 266.5,135.6 270.5,133.3 274.5,131.0 278.5,128.8 282.5,126.7 286.5,125.0 290.5,122.6 294.5,121.8 298.5,120.8 302.5,119.8 306.5,118.1 310.5,116.7 314.5,116.5 318.5,117.8 322.5,118.5 326.5,119.3 330.5,120.0 334.5,120.0 338.5,121.1 342.5,121.4 346.5,120.8 350.5,119.8 354.5,119.6 358.5,118.9 362.5,118.5 366.5,118.3 370.5,119.0 374.5,119.3 378.5,119.2 382.5,118.2 386.5,117.5 390.5,116.1 394.5,114.4 398.5,112.6 402.5,111.4 406.5,110.1 410.5,109.5 414.5,108.6 418.5,107.2 422.5,105.8 426.5,104.5 430.5,103.6 434.5,101.6 438.5,100.1 442.5,98.8 446.5,97.5 450.5,96.7 454.5,96.2 458.5,95.4 462.5,94.5 466.5,95.9 470.5,97.2 474.5,98.6 478.5,99.4 482.5,101.0 486.5,101.6 490.5,101.7 494.5,102.0 498.5,102.5 502.5,102.9 506.5,103.5 510.5,104.2 514.5,105.3 518.5,106.5 522.5,107.7 526.5,108.8 530.5,109.4 534.5,110.3 538.5,111.6 542.5,112.8 546.5,114.1 550.5,115.7 554.5,118.2 558.5,119.9 562.5,121.8 566.5,123.6 570.5,125.9 574.5,127.8 578.5,130.1 582.5,132.5 586.5,133.8 590.5,135.0 594.5,136.3 598.5,137.6 602.5,139.0 606.5,140.6 610.5,142.3 614.5,144.2 618.5,146.0 622.5,148.2 626.5,149.7 630.5,151.3 634.5,152.3 638.5,153.5 642.5,154.5 646.5,155.5 650.5,156.8 654.5,158.2 658.5,160.4 662.5,162.4 666.5,164.3 670.5,166.1 674.5,168.8 678.5,171.2 682.5,173.1 686.5,175.1 690.5,176.3 694.5,177.7 698.5,179.2 702.5,180.1 706.5,181.4 710.5,182.8 714.5,184.1 718.5,186.1 722.5,187.6 726.5,189.2 730.5,190.7 734.5,192.0 738.5,193.6 742.5,195.0 746.5,197.4 750.5,199.8 754.5,203.1 758.5,206.2 762.5,209.4 766.5,212.9 770.5,216.4 774.5,219.7 778.5,222.4 782.5,225.5 786.5,228.5 790.5,231.0 794.5,233.0 798.5,235.4 802.5,238.1 806.5,240.9 810.5,244.0 814.5,247.2 818.5,250.8 822.5,254.5 826.5,257.9 830.5,261.2 834.5,263.7 838.5,266.2 842.5,268.1 846.5,269.5 850.5,271.3 854.5,273.1 858.5,275.1 862.5,276.8 866.5,278.8 870.5,281.6 874.5,283.6 878.5,285.8 882.5,288.4 886.5,290.3 890.5,292.4 894.5,294.6 898.5,297.8 902.5,300.7 906.5,302.5 910.5,304.8 914.5,307.2 918.5,309.5 922.5,312.5 926.5,315.2 930.5,317.9 934.5,320.3 938.5,322.5 942.5,324.5 946.5,326.6 950.5,328.8 954.5,330.9 958.5,332.5 962.5,334.3 966.5,336.6 970.5,339.5 974.5,342.2 978.5,344.7 982.5,347.6 986.5,350.5 990.5,353.2 994.5,356.6 998.5,360.0 1002.5,361.9 1006.5,364.5 1010.5,366.7 1014.5,369.5 1018.5,371.0 1022.5,372.8 1026.5,376.2 1030.5,380.0 1034.5,383.1 1038.5,386.0 1042.5,388.7 1046.5,391.6 1050.5,393.4 1054.5,394.8 1058.5,396.1 1062.5,398.2 1066.5,400.2 1070.5,402.1 1074.5,404.6 1078.5,407.5 1082.5,411.0 1086.5,414.8 1090.5,418.5 1094.5,422.2 1098.5,425.6 1102.5,428.9 1106.5,431.2 1110.5,432.5 1114.5,433.6 1118.5,434.6 1122.5,436.4 1126.5,438.0 1130.5,440.3 1134.5,442.0 1138.5,443.8 1142.5,445.3 1146.5,446.0 1150.5,446.2 1154.5,446.7 1158.5,448.0 1162.5,448.7 1166.5,449.1 1170.5,450.2 1174.5,452.0 1178.5,453.5 1182.5,454.8 1186.5,456.2 1190.5,458.6 1194.5,461.5 1198.5,463.6 1202.5,465.3 1206.5,466.9 1210.5,467.8 1214.5,468.4 1218.5,469.6 1222.5,470.7 1226.5,471.7 1230.5,472.9 1234.5,474.0 1238.5,474.8 1242.5,476.0 1246.5,477.3 1250.5,478.1 1254.5,478.6 1258.5,479.0 1262.5,479.7 1266.5,480.8" fill="none" stroke="#0000cd" stroke-width="1"/><polyline points="2.5,231.9 6.5,232.0 10.5,231.9 14.5,231.6 18.5,228.5 22.5,224.4 26.5,220.7 30.5,215.9 34.5,210.2 38.5,204.3 42.5,197.5 46.5,191.8 50.5,188.8 54.5,186.1 58.5,183.2 62.5,179.6 66.5,177.0 70.5,178.0 74.5,177.9 78.5,177.2 82.5,177.4 86.5,177.8 90.5,178.5 94.5,179.4 98.5,178.6 102.5,175.3 106.5,172.6 110.5,170.9 114.5,170.1 118.5,168.6 122.5,165.7 126.5,164.2 130.5,163.8 134.5,164.4 138.5,166.0 142.5,168.0 146.5,171.7 150.5,174.8 154.5,179.9 158.5,184.7 162.5,188.7 166.5,191.7 170.5,194.7 174.5,194.2 178.5,193.3 182.5,191.4 186.5,190.7 190.5,187.3 194.5,180.7 198.5,170.0 202.5,161.2 206.5,151.9 210.5,142.9 214.5,136.7 218.5,128.8 222.5,122.8 226.5,119.8 230.5,117.0 234.5,112.7 238.5,108.7 242.5,105.0 246.5,104.6 250.5,106.0 254.5,106.9 258.5,108.3 262.5,111.6 266.5,112.0 270.5,116.0 274.5,117.7 278.5,120.6 282.5,122.1 286.5,125.5 290.5,126.0 294.5,127.3 298.5,127.8 302.5,129.6 306.5,131.0 310.5,131.1 314.5,129.5 318.5,129.0 322.5,126.9 326.5,124.8 330.5,122.5 334.5,121.2 338.5,119.8 342.5,119.9 346.5,117.5 350.5,114.7 354.5,112.2 358.5,110.4 362.5,109.2 366.5,108.9 370.5,108.8 374.5,108.7 378.5,108.0 382.5,107.6 386.5,106.3 390.5,104.5 394.5,101.6 398.5,101.8 402.5,102.6 406.5,103.6 410.5,104.3 414.5,104.4 418.5,102.0 422.5,99.2 426.5,96.9 430.5,95.1 434.5,91.1 438.5,88.9 442.5,86.9 446.5,85.9 450.5,85.7 454.5,86.2 458.5,85.8 462.5,85.4 466.5,88.1 470.5,91.6 474.5,95.6 478.5,98.8 482.5,103.2 486.5,108.8 490.5,112.5 494.5,116.2 498.5,119.5 502.5,121.9 506.5,123.2 510.5,124.8 514.5,126.5 518.5,126.2 522.5,127.0 526.5,127.2 530.5,127.4 534.5,125.9 538.5,125.1 542.5,124.7 546.5,124.8 550.5,125.5 554.5,126.3 558.5,126.8 562.5,127.6 566.5,127.9 570.5,130.6 574.5,132.6 578.5,135.0 582.5,138.7 586.5,142.2 590.5,145.7 594.5,149.9 598.5,153.1 602.5,157.0 606.5,160.5 610.5,164.1 614.5,167.7 618.5,171.3 622.5,173.2 626.5,173.7 630.5,173.7 634.5,172.2 638.5,171.8 642.5,171.9 646.5,171.5 650.5,171.7 654.5,170.4 658.5,170.8 662.5,171.0 666.5,171.4 670.5,172.0 674.5,174.0 678.5,176.4 682.5,177.9 686.5,180.5 690.5,183.2 694.5,186.2 698.5,189.6 702.5,192.3 706.5,195.7 710.5,197.4 714.5,200.0 718.5,203.4 722.5,206.5 726.5,207.7 730.5,209.0 734.5,211.3 738.5,214.0 742.5,216.3 746.5,219.0 750.5,221.3 754.5,225.2 758.5,228.9 762.5,233.3 766.5,238.0 770.5,241.5 774.5,244.4 778.5,247.4 782.5,251.4 786.5,255.7 790.5,258.2 794.5,261.8 798.5,264.2 802.5,266.4 806.5,267.7 810.5,270.3 814.5,273.5 818.5,277.2 822.5,280.2 826.5,283.8 830.5,286.9 834.5,288.2 838.5,290.5 842.5,292.1 846.5,291.9 850.5,291.7 854.5,292.1 858.5,293.0 862.5,292.1 866.5,291.8 870.5,292.2 874.5,292.6 878.5,293.4 882.5,296.1 886.5,299.4 890.5,301.9 894.5,305.5 898.5,312.6 902.5,319.4 906.5,323.5 910.5,326.8 914.5,332.1 918.5,335.3 922.5,337.7 926.5,340.6 930.5,344.3 934.5,347.0 938.5,351.5 942.5,354.4 946.5,357.7 950.5,358.5 954.5,357.8 958.5,359.6 962.5,360.2 966.5,359.8 970.5,360.8 974.5,360.8 978.5,360.9 982.5,360.8 986.5,361.6 990.5,363.0 994.5,366.6 998.5,370.5 1002.5,372.4 1006.5,376.9 1010.5,380.8 1014.5,386.7 1018.5,391.8 1022.5,396.3 1026.5,401.9 1030.5,408.3 1034.5,414.0 1038.5,417.0 1042.5,419.6 1046.5,421.4 1050.5,421.3 1054.5,423.1 1058.5,424.5 1062.5,427.0 1066.5,428.6 1070.5,430.4 1074.5,431.3 1078.5,431.9 1082.5,431.9 1086.5,432.8 1090.5,435.8 1094.5,437.9 1098.5,439.5 1102.5,442.7 1106.5,445.6 1110.5,447.1 1114.5,448.3 1118.5,449.8 1122.5,451.6 1126.5,454.1 1130.5,456.5 1134.5,458.1 1138.5,458.9 1142.5,458.3 1146.5,457.0 1150.5,455.8 1154.5,455.3 1158.5,455.7 1162.5,456.9 1166.5,457.0 1170.5,457.4 1174.5,458.8 1178.5,460.2 1182.5,460.7 1186.5,461.3 1190.5,464.5 1194.5,468.5 1198.5,472.5 1202.5,475.8 1206.5,479.3 1210.5,481.5 1214.5,483.4 1218.5,486.9 1222.5,489.8 1226.5,491.3 1230.5,491.9 1234.5,492.6 1238.5,492.8 1242.5,491.6 1246.5,490.6 1250.5,489.9 1254.5,488.8 1258.5,486.8 1262.5,485.8 1266.5,485.5" fill="none" stroke="#ff0000" stroke-width="1"/><polyline points="2.5,240.1 6.5,231.5 10.5,223.9 14.5,216.0 18.5,206.1 22.5,199.6 26.5,196.4 30.5,188.2 34.5,180.3 38.5,179.2 42.5,173.9 46.5,171.0 50.5,174.5 54.5,177.3 58.5,176.7 62.5,177.4 66.5,177.6 70.5,178.0 74.5,178.4 78.5,180.8 82.5,182.6 86.5,182.1 90.5,180.6 94.5,177.7 98.5,174.8 102.5,169.0 106.5,163.8 110.5,157.0 114.5,153.3 118.5,151.5 122.5,153.0 126.5,156.6 130.5,162.3 134.5,167.7 138.5,175.4 142.5,186.6 146.5,197.2 150.5,203.2 154.5,209.2 158.5,212.3 162.5,210.9 166.5,205.4 170.5,203.2 174.5,190.3 178.5,178.9 182.5,169.1 186.5,165.2 190.5,156.2 194.5,151.4 198.5,136.9 202.5,124.7 206.5,108.3 210.5,96.7 214.5,96.6 218.5,98.0 222.5,103.5 226.5,106.8 230.5,111.6 234.5,106.8 238.5,113.1 242.5,109.8 246.5,112.0 250.5,108.4 254.5,109.6 258.5,107.2 262.5,114.0 266.5,115.8 270.5,123.9 274.5,131.5 278.5,138.8 282.5,138.8 286.5,141.8 290.5,139.1 294.5,134.8 298.5,130.7 302.5,128.0 306.5,124.1 310.5,120.6 314.5,119.8 318.5,118.9 322.5,116.8 326.5,115.3 330.5,116.3 334.5,117.2 338.5,117.9 342.5,120.9 346.5,115.7 350.5,110.3 354.5,104.5 358.5,99.7 362.5,92.7 366.5,97.4 370.5,103.7 374.5,107.8 378.5,109.1 382.5,112.2 386.5,110.6 390.5,106.6 394.5,102.2 398.5,99.5 402.5,97.5 406.5,97.5 410.5,99.3 414.5,100.0 418.5,97.9 422.5,94.8 426.5,90.4 430.5,85.2 434.5,77.7 438.5,76.7 442.5,74.6 446.5,73.6 450.5,75.0 454.5,84.7 458.5,89.5 462.5,95.5 466.5,105.8 470.5,113.1 474.5,119.2 478.5,124.0 482.5,131.5 486.5,131.5 490.5,131.1 494.5,128.2 498.5,127.5 502.5,123.5 506.5,122.1 510.5,121.5 514.5,122.3 518.5,123.2 522.5,126.5 526.5,129.7 530.5,130.7 534.5,130.0 538.5,128.6 542.5,124.9 546.5,121.9 550.5,122.6 554.5,124.6 558.5,126.6 562.5,129.0 566.5,130.4 570.5,136.5 574.5,142.7 578.5,150.8 582.5,159.6 586.5,167.1 590.5,167.8 594.5,169.9 598.5,169.1 602.5,170.2 606.5,172.3 610.5,174.5 614.5,175.4 618.5,177.8 622.5,178.7 626.5,176.9 630.5,175.8 634.5,171.2 638.5,168.2 642.5,164.5 646.5,164.2 650.5,163.9 654.5,165.6 658.5,169.9 662.5,172.2 666.5,175.1 670.5,178.4 674.5,187.9 678.5,191.5 682.5,193.5 686.5,195.0 690.5,197.3 694.5,196.2 698.5,198.5 702.5,201.5 706.5,205.0 710.5,206.9 714.5,208.1 718.5,211.0 722.5,215.2 726.5,219.1 730.5,221.8 734.5,222.8 738.5,222.6 742.5,222.9 746.5,225.8 750.5,230.4 754.5,237.8 758.5,243.6 762.5,251.0 766.5,257.5 770.5,263.4 774.5,265.2 778.5,267.2 782.5,268.8 786.5,268.7 790.5,266.1 794.5,268.1 798.5,269.5 802.5,269.2 806.5,269.1 810.5,275.1 814.5,281.5 818.5,291.1 822.5,299.5 826.5,307.0 830.5,310.2 834.5,307.1 838.5,303.3 842.5,297.0 846.5,289.2 850.5,282.2 854.5,279.2 858.5,275.8 862.5,275.1 866.5,281.1 870.5,292.3 874.5,300.8 878.5,308.0 882.5,320.7 886.5,326.8 890.5,328.5 894.5,330.7 898.5,339.0 902.5,342.9 906.5,341.9 910.5,340.6 914.5,344.1 918.5,340.0 922.5,339.6 926.5,345.4 930.5,353.4 934.5,359.6 938.5,369.2 942.5,372.0 946.5,375.1 950.5,376.0 954.5,370.9 958.5,362.9 962.5,355.7 966.5,349.5 970.5,346.0 974.5,347.3 978.5,348.8 982.5,354.9 986.5,364.4 990.5,374.8 994.5,387.1 998.5,400.0 1002.5,406.2 1006.5,410.7 1010.5,409.3 1014.5,408.0 1018.5,404.9 1022.5,408.1 1026.5,412.1 1030.5,420.4 1034.5,425.9 1038.5,430.0 1042.5,435.4 1046.5,437.8 1050.5,433.7 1054.5,429.7 1058.5,430.0 1062.5,428.7 1066.5,426.7 1070.5,428.5 1074.5,429.5 1078.5,431.3 1082.5,432.9 1086.5,436.9 1090.5,444.2 1094.5,452.8 1098.5,457.7 1102.5,461.8 1106.5,463.0 1110.5,459.2 1114.5,455.8 1118.5,453.6 1122.5,451.7 1126.5,451.6 1130.5,455.7 1134.5,458.3 1138.5,460.4 1142.5,461.5 1146.5,460.1 1150.5,456.0 1154.5,454.4 1158.5,454.9 1162.5,455.5 1166.5,456.0 1170.5,457.8 1174.5,460.9 1178.5,463.2 1182.5,465.6 1186.5,469.4 1190.5,478.9 1194.5,486.8 1198.5,492.0 1202.5,495.5 1206.5,501.1 1210.5,499.0 1214.5,494.2 1218.5,493.5 1222.5,494.2 1226.5,492.1 1230.5,490.3 1234.5,489.5 1238.5,484.8 1242.5,483.4 1246.5,485.0 1250.5,486.8 1254.5,485.6 1258.5,485.5 1262.5,484.1 1266.5,480.9" fill="none" stroke="#ffa500" stroke-width="1"/></g>
<rect x="2" y="109" width="1592" height="2" fill="#ff0000"/><rect x="2" y="169" width="1592" height="2" fill="#ff0000"/><rect x="2" y="236" width="1592" height="2" fill="#ff0000"/><rect x="2" y="313" width="1592" height="2" fill="#ff0000"/><rect x="2" y="394" width="1592" height="2" fill="#00ff00"/><rect x="2" y="453" width="1592" height="2" fill="#0000ff"/>
<polyline points="2.5,592.9 6.5,586.3 10.5,588.5 14.5,587.9 18.5,575.0 22.5,579.7 26.5,581.6 30.5,575.1 34.5,575.2 38.5,576.0 42.5,572.6 46.5,580.6 50.5,585.6 54.5,584.2 58.5,579.3 62.5,577.7 66.5,583.4 70.5,588.4 74.5,587.1 78.5,585.2 82.5,582.4 86.5,583.0 90.5,586.3 94.5,582.5 98.5,580.5 102.5,573.8 106.5,575.9 110.5,575.8 114.5,578.6 118.5,580.4 122.5,578.6 126.5,585.7 130.5,590.2 134.5,591.6 138.5,597.0 142.5,600.9 146.5,603.9 150.5,597.7 154.5,598.8 158.5,599.0 162.5,594.1 166.5,590.0 170.5,591.7 174.5,575.7 178.5,579.0 182.5,578.4 186.5,585.5 190.5,580.1 194.5,574.1 198.5,568.0 202.5,571.2 206.5,571.0 210.5,572.2 214.5,580.9 218.5,575.1 222.5,582.8 226.5,580.6 230.5,583.2 234.5,579.6 238.5,584.8 242.5,581.7 246.5,585.0 250.5,581.7 254.5,582.7 258.5,583.7 262.5,590.2 266.5,587.9 270.5,590.7 274.5,591.1 278.5,591.6 282.5,589.7 286.5,590.8 290.5,586.8 294.5,585.3 298.5,586.2 302.5,586.2 306.5,585.5 310.5,581.9 314.5,584.5 318.5,585.5 322.5,583.4 326.5,584.0 330.5,584.0 334.5,586.8 338.5,587.7 342.5,589.9 346.5,576.3 350.5,576.0 354.5,578.0 358.5,581.2 362.5,579.4 366.5,587.4 370.5,589.7 374.5,587.3 378.5,584.7 382.5,586.2 386.5,584.5 390.5,582.3 394.5,579.3 398.5,580.0 402.5,583.7 406.5,586.4 410.5,588.1 414.5,582.0 418.5,577.5 422.5,578.6 426.5,578.4 430.5,578.4 434.5,570.0 438.5,580.2 442.5,579.1 446.5,581.4 450.5,586.7 454.5,592.2 458.5,590.5 462.5,591.3 466.5,599.8 470.5,598.2 474.5,600.7 478.5,595.9 482.5,600.2 486.5,595.6 490.5,593.6 494.5,592.2 498.5,592.4 502.5,591.8 506.5,592.6 510.5,592.1 514.5,593.8 518.5,594.1 522.5,598.8 526.5,599.1 530.5,592.3 534.5,589.5 538.5,588.0 542.5,588.0 546.5,590.4 550.5,594.2 554.5,594.9 558.5,592.9 562.5,594.1 566.5,593.3 570.5,606.5 574.5,607.1 578.5,609.0 582.5,610.4 586.5,605.0 590.5,602.9 594.5,605.9 598.5,600.3 602.5,605.3 606.5,603.9 610.5,601.9 614.5,603.0 618.5,602.1 622.5,605.2 626.5,594.3 630.5,594.6 634.5,586.9 638.5,590.0 642.5,592.3 646.5,592.7 650.5,593.0 654.5,590.3 658.5,599.1 662.5,596.0 666.5,597.8 670.5,598.7 674.5,607.4 678.5,601.2 682.5,594.7 686.5,595.2 690.5,597.5 694.5,600.7 698.5,602.7 702.5,597.6 706.5,599.0 710.5,597.9 714.5,600.4 718.5,604.7 722.5,603.4 726.5,604.1 730.5,599.2 734.5,598.3 738.5,601.5 742.5,601.5 746.5,606.4 750.5,606.8 754.5,610.1 758.5,610.3 762.5,612.3 766.5,614.5 770.5,613.4 774.5,606.5 778.5,607.3 782.5,609.0 786.5,609.4 790.5,599.6 794.5,604.2 798.5,604.3 802.5,602.1 806.5,602.9 810.5,608.4 814.5,612.1 818.5,615.2 822.5,609.2 826.5,607.9 830.5,605.2 834.5,596.2 838.5,600.2 842.5,590.9 846.5,587.2 850.5,587.1 854.5,588.6 858.5,592.6 862.5,589.3 866.5,597.0 870.5,603.2 874.5,599.4 878.5,600.3 882.5,604.6 886.5,600.8 890.5,601.6 894.5,598.6 898.5,605.9 902.5,604.7 906.5,593.1 910.5,593.6 914.5,597.5 918.5,596.4 922.5,599.8 926.5,599.0 930.5,601.8 934.5,603.4 938.5,605.9 942.5,599.1 946.5,598.8 950.5,599.2 954.5,591.3 958.5,591.0 962.5,586.4 966.5,587.8 970.5,592.6 974.5,593.0 978.5,593.2 982.5,595.8 986.5,601.4 990.5,605.6 994.5,607.6 998.5,608.2 1002.5,598.0 1006.5,600.8 1010.5,597.4 1014.5,600.0 1018.5,597.8 1022.5,599.5 1026.5,603.1 1030.5,605.4 1034.5,604.5 1038.5,599.2 1042.5,602.2 1046.5,602.5 1050.5,594.5 1054.5,594.0 1058.5,596.3 1062.5,597.8 1066.5,597.0 1070.5,596.0 1074.5,593.8 1078.5,597.9 1082.5,599.1 1086.5,602.0 1090.5,605.5 1094.5,605.9 1098.5,602.7 1102.5,602.8 1106.5,600.6 1110.5,594.5 1114.5,595.8 1118.5,596.1 1122.5,596.7 1126.5,598.7 1130.5,602.4 1134.5,599.6 1138.5,598.6 1142.5,596.2 1146.5,591.4 1150.5,589.3 1154.5,593.7 1158.5,597.5 1162.5,596.0 1166.5,590.5 1170.5,592.3 1174.5,598.8 1178.5,600.4 1182.5,599.2 1186.5,598.0 1190.5,608.3 1194.5,610.0 1198.5,604.5 1202.5,598.4 1206.5,601.3 1210.5,597.6 1214.5,594.4 1218.5,598.4 1222.5,596.3 1226.5,594.0 1230.5,591.1 1234.5,590.6 1238.5,586.9 1242.5,592.3 1246.5,596.3 1250.5,593.6 1254.5,586.6 1258.5,585.7 1262.5,588.3 1266.5,589.0" fill="none" stroke="#1e90ff" stroke-width="1"/><rect x="2" y="682" width="1" height="30" fill="#c0c0c0"/><rect x="6" y="682" width="1" height="25" fill="#c0c0c0"/><rect x="10" y="682" width="1" height="21" fill="#c0c0c0"/><rect x="14" y="682" width="1" height="18" fill="#c0c0c0"/><rect x="18" y="682" width="1" height="10" fill="#c0c0c0"/><rect x="22" y="682" width="1" height="6" fill="#c0c0c0"/><rect x="26" y="682" width="1" height="2" fill="#c0c0c0"/><rect x="30" y="679" width="1" height="3" fill="#c0c0c0"/><rect x="34" y="675" width="1" height="7" fill="#c0c0c0"/><rect x="38" y="672" width="1" height="10" fill="#c0c0c0"/><rect x="42" y="668" width="1" height="14" fill="#c0c0c0"/><rect x="46" y="667" width="1" height="15" fill="#c0c0c0"/><rect x="50" y="668" width="1" height="14" fill="#c0c0c0"/><rect x="54" y="669" width="1" height="13" fill="#c0c0c0"/><rect x="58" y="668" width="1" height="14" fill="#c0c0c0"/><rect x="62" y="666" width="1" height="16" fill="#c0c0c0"/><rect x="66" y="667" width="1" height="15" fill="#c0c0c0"/><rect x="70" y="669" width="1" height="13" fill="#c0c0c0"/><rect x="74" y="671" width="1" height="11" fill="#c0c0c0"/><rect x="78" y="672" width="1" height="10" fill="#c0c0c0"/><rect x="82" y="671" width="1" height="11" fill="#c0c0c0"/><rect x="86" y="671" width="1" height="11" fill="#c0c0c0"/><rect x="90" y="672" width="1" height="10" fill="#c0c0c0"/><rect x="94" y="672" width="1" height="10" fill="#c0c0c0"/><rect x="98" y="671" width="1" height="11" fill="#c0c0c0"/><rect x="102" y="667" width="1" height="15" fill="#c0c0c0"/><rect x="106" y="665" width="1" height="17" fill="#c0c0c0"/><rect x="110" y="663" width="1" height="19" fill="#c0c0c0"/><rect x="114" y="663" width="1" height="19" fill="#c0c0c0"/><rect x="118" y="663" width="1" height="19" fill="#c0c0c0"/><rect x="122" y="663" width="1" height="19" fill="#c0c0c0"/><rect x="126" y="665" width="1" height="17" fill="#c0c0c0"/><rect x="130" y="669" width="1" height="13" fill="#c0c0c0"/><rect x="134" y="672" width="1" height="10" fill="#c0c0c0"/><rect x="138" y="677" width="1" height="5" fill="#c0c0c0"/><rect x="142" y="682" width="1" height="1" fill="#c0c0c0"/><rect x="146" y="682" width="1" height="7" fill="#c0c0c0"/><rect x="150" y="682" width="1" height="10" fill="#c0c0c0"/><rect x="154" y="682" width="1" height="12" fill="#c0c0c0"/><rect x="158" y="682" width="1" height="14" fill="#c0c0c0"/><rect x="162" y="682" width="1" height="14" fill="#c0c0c0"/><rect x="166" y="682" width="1" height="13" fill="#c0c0c0"/><rect x="170" y="682" width="1" height="12" fill="#c0c0c0"/><rect x="174" y="682" width="1" height="4" fill="#c0c0c0"/><rect x="178" y="681" width="1" height="1" fill="#c0c0c0"/><rect x="182" y="677" width="1" height="5" fill="#c0c0c0"/><rect x="186" y="676" width="1" height="6" fill="#c0c0c0"/><rect x="190" y="673" width="1" height="9" fill="#c0c0c0"/><rect x="194" y="667" width="1" height="15" fill="#c0c0c0"/><rect x="198" y="656" width="1" height="26" fill="#c0c0c0"/><rect x="202" y="649" width="1" height="33" fill="#c0c0c0"/><rect x="206" y="644" width="1" height="38" fill="#c0c0c0"/><rect x="210" y="641" width="1" height="41" fill="#c0c0c0"/><rect x="214" y="643" width="1" height="39" fill="#c0c0c0"/><rect x="218" y="640" width="1" height="42" fill="#c0c0c0"/><rect x="222" y="643" width="1" height="39" fill="#c0c0c0"/><rect x="226" y="644" width="1" height="38" fill="#c0c0c0"/><rect x="230" y="646" width="1" height="36" fill="#c0c0c0"/><rect x="234" y="646" width="1" height="36" fill="#c0c0c0"/><rect x="238" y="649" width="1" height="33" fill="#c0c0c0"/><rect x="242" y="650" width="1" height="32" fill="#c0c0c0"/><rect x="246" y="653" width="1" height="29" fill="#c0c0c0"/><rect x="250" y="653" width="1" height="29" fill="#c0c0c0"/><rect x="254" y="654" width="1" height="28" fill="#c0c0c0"/><rect x="258" y="655" width="1" height="27" fill="#c0c0c0"/><rect x="262" y="661" width="1" height="21" fill="#c0c0c0"/><rect x="266" y="664" width="1" height="18" fill="#c0c0c0"/><rect x="270" y="669" width="1" height="13" fill="#c0c0c0"/><rect x="274" y="673" width="1" height="9" fill="#c0c0c0"/><rect x="278" y="677" width="1" height="5" fill="#c0c0c0"/><rect x="282" y="679" width="1" height="3" fill="#c0c0c0"/><rect x="286" y="681" width="1" height="1" fill="#c0c0c0"/><rect x="290" y="680" width="1" height="2" fill="#c0c0c0"/><rect x="294" y="679" width="1" height="3" fill="#c0c0c0"/><rect x="298" y="679" width="1" height="3" fill="#c0c0c0"/><rect x="302" y="678" width="1" height="4" fill="#c0c0c0"/><rect x="306" y="678" width="1" height="4" fill="#c0c0c0"/><rect x="310" y="676" width="1" height="6" fill="#c0c0c0"/><rect x="314" y="675" width="1" height="7" fill="#c0c0c0"/><rect x="318" y="675" width="1" height="7" fill="#c0c0c0"/><rect x="322" y="674" width="1" height="8" fill="#c0c0c0"/><rect x="326" y="674" width="1" height="8" fill="#c0c0c0"/><rect x="330" y="674" width="1" height="8" fill="#c0c0c0"/><rect x="334" y="675" width="1" height="7" fill="#c0c0c0"/><rect x="338" y="676" width="1" height="6" fill="#c0c0c0"/><rect x="342" y="677" width="1" height="5" fill="#c0c0c0"/><rect x="346" y="673" width="1" height="9" fill="#c0c0c0"/><rect x="350" y="670" width="1" height="12" fill="#c0c0c0"/><rect x="354" y="668" width="1" height="14" fill="#c0c0c0"/><rect x="358" y="667" width="1" height="15" fill="#c0c0c0"/><rect x="362" y="666" width="1" height="16" fill="#c0c0c0"/><rect x="366" y="669" width="1" height="13" fill="#c0c0c0"/><rect x="370" y="671" width="1" height="11" fill="#c0c0c0"/><rect x="374" y="673" width="1" height="9" fill="#c0c0c0"/><rect x="378" y="673" width="1" height="9" fill="#c0c0c0"/><rect x="382" y="674" width="1" height="8" fill="#c0c0c0"/><rect x="386" y="674" width="1" height="8" fill="#c0c0c0"/><rect x="390" y="673" width="1" height="9" fill="#c0c0c0"/><rect x="394" y="671" width="1" height="11" fill="#c0c0c0"/><rect x="398" y="670" width="1" height="12" fill="#c0c0c0"/><rect x="402" y="671" width="1" height="11" fill="#c0c0c0"/><rect x="406" y="672" width="1" height="10" fill="#c0c0c0"/><rect x="410" y="674" width="1" height="8" fill="#c0c0c0"/><rect x="414" y="673" width="1" height="9" fill="#c0c0c0"/><rect x="418" y="671" width="1" height="11" fill="#c0c0c0"/><rect x="422" y="669" width="1" height="13" fill="#c0c0c0"/><rect x="426" y="668" width="1" height="14" fill="#c0c0c0"/><rect x="430" y="668" width="1" height="14" fill="#c0c0c0"/><rect x="434" y="664" width="1" height="18" fill="#c0c0c0"/><rect x="438" y="663" width="1" height="19" fill="#c0c0c0"/><rect x="442" y="663" width="1" height="19" fill="#c0c0c0"/><rect x="446" y="664" width="1" height="18" fill="#c0c0c0"/><rect x="450" y="666" width="1" height="16" fill="#c0c0c0"/><rect x="454" y="670" width="1" height="12" fill="#c0c0c0"/><rect x="458" y="673" width="1" height="9" fill="#c0c0c0"/><rect x="462" y="676" width="1" height="6" fill="#c0c0c0"/><rect x="466" y="682" width="1" height="1" fill="#c0c0c0"/><rect x="470" y="682" width="1" height="4" fill="#c0c0c0"/><rect x="474" y="682" width="1" height="8" fill="#c0c0c0"/><rect x="478" y="682" width="1" height="10" fill="#c0c0c0"/><rect x="482" y="682" width="1" height="14" fill="#c0c0c0"/><rect x="486" y="682" width="1" height="15" fill="#c0c0c0"/><rect x="490" y="682" width="1" height="15" fill="#c0c0c0"/><rect x="494" y="682" width="1" height="14" fill="#c0c0c0"/><rect x="498" y="682" width="1" height="14" fill="#c0c0c0"/><rect x="502" y="682" width="1" height="13" fill="#c0c0c0"/><rect x="506" y="682" width="1" height="13" fill="#c0c0c0"/><rect x="510" y="682" width="1" height="12" fill="#c0c0c0"/><rect x="514" y="682" width="1" height="12" fill="#c0c0c0"/><rect x="518" y="682" width="1" height="12" fill="#c0c0c0"/><rect x="522" y="682" width="1" height="13" fill="#c0c0c0"/><rect x="526" y="682" width="1" height="14" fill="#c0c0c0"/><rect x="530" y="682" width="1" height="13" fill="#c0c0c0"/><rect x="534" y="682" width="1" height="11" fill="#c0c0c0"/><rect x="538" y="682" width="1" height="10" fill="#c0c0c0"/><rect x="542" y="682" width="1" height="8" fill="#c0c0c0"/><rect x="546" y="682" width="1" height="7" fill="#c0c0c0"/><rect x="550" y="682" width="1" height="8" fill="#c0c0c0"/><rect x="554" y="682" width="1" height="8" fill="#c0c0c0"/><rect x="558" y="682" width="1" height="8" fill="#c0c0c0"/><rect x="562" y="682" width="1" height="8" fill="#c0c0c0"/><rect x="566" y="682" width="1" height="8" fill="#c0c0c0"/><rect x="570" y="682" width="1" height="12" fill="#c0c0c0"/><rect x="574" y="682" width="1" height="16" fill="#c0c0c0"/><rect x="578" y="682" width="1" height="19" fill="#c0c0c0"/><rect x="582" y="682" width="1" height="22" fill="#c0c0c0"/><rect x="586" y="682" width="1" height="24" fill="#c0c0c0"/><rect x="590" y="682" width="1" height="24" fill="#c0c0c0"/><rect x="594" y="682" width="1" height="25" fill="#c0c0c0"/><rect x="598" y="682" width="1" height="25" fill="#c0c0c0"/><rect x="602" y="682" width="1" height="26" fill="#c0c0c0"/><rect x="606" y="682" width="1" height="27" fill="#c0c0c0"/><rect x="610" y="682" width="1" height="26" fill="#c0c0c0"/><rect x="614" y="682" width="1" height="26" fill="#c0c0c0"/><rect x="618" y="682" width="1" height="26" fill="#c0c0c0"/><rect x="622" y="682" width="1" height="26" fill="#c0c0c0"/><rect x="626" y="682" width="1" height="24" fill="#c0c0c0"/><rect x="630" y="682" width="1" height="22" fill="#c0c0c0"/><rect x="634" y="682" width="1" height="18" fill="#c0c0c0"/><rect x="638" y="682" width="1" height="16" fill="#c0c0c0"/><rect x="642" y="682" width="1" height="15" fill="#c0c0c0"/><rect x="646" y="682" width="1" height="14" fill="#c0c0c0"/><rect x="650" y="682" width="1" height="13" fill="#c0c0c0"/><rect x="654" y="682" width="1" height="11" fill="#c0c0c0"/><rect x="658" y="682" width="1" height="13" fill="#c0c0c0"/><rect x="662" y="682" width="1" height="13" fill="#c0c0c0"/><rect x="666" y="682" width="1" height="14" fill="#c0c0c0"/><rect x="670" y="682" width="1" height="14" fill="#c0c0c0"/><rect x="674" y="682" width="1" height="19" fill="#c0c0c0"/><rect x="678" y="682" width="1" height="20" fill="#c0c0c0"/><rect x="682" y="682" width="1" height="19" fill="#c0c0c0"/><rect x="686" y="682" width="1" height="19" fill="#c0c0c0"/><rect x="690" y="682" width="1" height="19" fill="#c0c0c0"/><rect x="694" y="682" width="1" height="20" fill="#c0c0c0"/><rect x="698" y="682" width="1" height="22" fill="#c0c0c0"/><rect x="702" y="682" width="1" height="22" fill="#c0c0c0"/><rect x="706" y="682" width="1" height="22" fill="#c0c0c0"/><rect x="710" y="682" width="1" height="22" fill="#c0c0c0"/><rect x="714" y="682" width="1" height="22" fill="#c0c0c0"/><rect x="718" y="682" width="1" height="24" fill="#c0c0c0"/><rect x="722" y="682" width="1" height="25" fill="#c0c0c0"/><rect x="726" y="682" width="1" height="26" fill="#c0c0c0"/><rect x="730" y="682" width="1" height="26" fill="#c0c0c0"/><rect x="734" y="682" width="1" height="25" fill="#c0c0c0"/><rect x="738" y="682" width="1" height="25" fill="#c0c0c0"/><rect x="742" y="682" width="1" height="24" fill="#c0c0c0"/><rect x="746" y="682" width="1" height="26" fill="#c0c0c0"/><rect x="750" y="682" width="1" height="27" fill="#c0c0c0"/><rect x="754" y="682" width="1" height="30" fill="#c0c0c0"/><rect x="758" y="682" width="1" height="31" fill="#c0c0c0"/><rect x="762" y="682" width="1" height="33" fill="#c0c0c0"/><rect x="766" y="682" width="1" height="36" fill="#c0c0c0"/><rect x="770" y="682" width="1" height="38" fill="#c0c0c0"/><rect x="774" y="682" width="1" height="37" fill="#c0c0c0"/><rect x="778" y="682" width="1" height="37" fill="#c0c0c0"/><rect x="782" y="682" width="1" height="37" fill="#c0c0c0"/><rect x="786" y="682" width="1" height="36" fill="#c0c0c0"/><rect x="790" y="682" width="1" height="34" fill="#c0c0c0"/><rect x="794" y="682" width="1" height="34" fill="#c0c0c0"/><rect x="798" y="682" width="1" height="33" fill="#c0c0c0"/><rect x="802" y="682" width="1" height="32" fill="#c0c0c0"/><rect x="806" y="682" width="1" height="30" fill="#c0c0c0"/><rect x="810" y="682" width="1" height="32" fill="#c0c0c0"/><rect x="814" y="682" width="1" height="34" fill="#c0c0c0"/><rect x="818" y="682" width="1" height="39" fill="#c0c0c0"/><rect x="822" y="682" width="1" height="40" fill="#c0c0c0"/><rect x="826" y="682" width="1" height="41" fill="#c0c0c0"/><rect x="830" y="682" width="1" height="40" fill="#c0c0c0"/><rect x="834" y="682" width="1" height="36" fill="#c0c0c0"/><rect x="838" y="682" width="1" height="35" fill="#c0c0c0"/><rect x="842" y="682" width="1" height="31" fill="#c0c0c0"/><rect x="846" y="682" width="1" height="26" fill="#c0c0c0"/><rect x="850" y="682" width="1" height="21" fill="#c0c0c0"/><rect x="854" y="682" width="1" height="18" fill="#c0c0c0"/><rect x="858" y="682" width="1" height="17" fill="#c0c0c0"/><rect x="862" y="682" width="1" height="15" fill="#c0c0c0"/><rect x="866" y="682" width="1" height="16" fill="#c0c0c0"/><rect x="870" y="682" width="1" height="21" fill="#c0c0c0"/><rect x="874" y="682" width="1" height="23" fill="#c0c0c0"/><rect x="878" y="682" width="1" height="25" fill="#c0c0c0"/><rect x="882" y="682" width="1" height="29" fill="#c0c0c0"/><rect x="886" y="682" width="1" height="30" fill="#c0c0c0"/><rect x="890" y="682" width="1" height="32" fill="#c0c0c0"/><rect x="894" y="682" width="1" height="31" fill="#c0c0c0"/><rect x="898" y="682" width="1" height="36" fill="#c0c0c0"/><rect x="902" y="682" width="1" height="38" fill="#c0c0c0"/><rect x="906" y="682" width="1" height="35" fill="#c0c0c0"/><rect x="910" y="682" width="1" height="33" fill="#c0c0c0"/><rect x="914" y="682" width="1" height="33" fill="#c0c0c0"/><rect x="918" y="682" width="1" height="32" fill="#c0c0c0"/><rect x="922" y="682" width="1" height="33" fill="#c0c0c0"/><rect x="926" y="682" width="1" height="33" fill="#c0c0c0"/><rect x="930" y="682" width="1" height="35" fill="#c0c0c0"/><rect x="934" y="682" width="1" height="37" fill="#c0c0c0"/><rect x="938" y="682" width="1" height="40" fill="#c0c0c0"/><rect x="942" y="682" width="1" height="40" fill="#c0c0c0"/><rect x="946" y="682" width="1" height="39" fill="#c0c0c0"/><rect x="950" y="682" width="1" height="38" fill="#c0c0c0"/><rect x="954" y="682" width="1" height="33" fill="#c0c0c0"/><rect x="958" y="682" width="1" height="29" fill="#c0c0c0"/><rect x="962" y="682" width="1" height="24" fill="#c0c0c0"/><rect x="966" y="682" width="1" height="20" fill="#c0c0c0"/><rect x="970" y="682" width="1" height="19" fill="#c0c0c0"/><rect x="974" y="682" width="1" height="18" fill="#c0c0c0"/><rect x="978" y="682" width="1" height="17" fill="#c0c0c0"/><rect x="982" y="682" width="1" height="18" fill="#c0c0c0"/><rect x="986" y="682" width="1" height="21" fill="#c0c0c0"/><rect x="990" y="682" width="1" height="26" fill="#c0c0c0"/><rect x="994" y="682" width="1" height="31" fill="#c0c0c0"/><rect x="998" y="682" width="1" height="36" fill="#c0c0c0"/><rect x="1002" y="682" width="1" height="35" fill="#c0c0c0"/><rect x="1006" y="682" width="1" height="36" fill="#c0c0c0"/><rect x="1010" y="682" width="1" height="35" fill="#c0c0c0"/><rect x="1014" y="682" width="1" height="35" fill="#c0c0c0"/><rect x="1018" y="682" width="1" height="35" fill="#c0c0c0"/><rect x="1022" y="682" width="1" height="34" fill="#c0c0c0"/><rect x="1026" y="682" width="1" height="36" fill="#c0c0c0"/><rect x="1030" y="682" width="1" height="39" fill="#c0c0c0"/><rect x="1034" y="682" width="1" height="41" fill="#c0c0c0"/><rect x="1038" y="682" width="1" height="40" fill="#c0c0c0"/><rect x="1042" y="682" width="1" height="40" fill="#c0c0c0"/><rect x="1046" y="682" width="1" height="40" fill="#c0c0c0"/><rect x="1050" y="682" width="1" height="37" fill="#c0c0c0"/><rect x="1054" y="682" width="1" height="34" fill="#c0c0c0"/><rect x="1058" y="682" width="1" height="32" fill="#c0c0c0"/><rect x="1062" y="682" width="1" height="31" fill="#c0c0c0"/><rect x="1066" y="682" width="1" height="30" fill="#c0c0c0"/><rect x="1070" y="682" width="1" height="28" fill="#c0c0c0"/><rect x="1074" y="682" width="1" height="26" fill="#c0c0c0"/><rect x="1078" y="682" width="1" height="26" fill="#c0c0c0"/><rect x="1082" y="682" width="1" height="26" fill="#c0c0c0"/><rect x="1086" y="682" width="1" height="27" fill="#c0c0c0"/><rect x="1090" y="682" width="1" height="30" fill="#c0c0c0"/><rect x="1094" y="682" width="1" height="32" fill="#c0c0c0"/><rect x="1098" y="682" width="1" height="32" fill="#c0c0c0"/><rect x="1102" y="682" width="1" height="32" fill="#c0c0c0"/><rect x="1106" y="682" width="1" height="31" fill="#c0c0c0"/><rect x="1110" y="682" width="1" height="28" fill="#c0c0c0"/><rect x="1114" y="682" width="1" height="26" fill="#c0c0c0"/><rect x="1118" y="682" width="1" height="25" fill="#c0c0c0"/><rect x="1122" y="682" width="1" height="23" fill="#c0c0c0"/><rect x="1126" y="682" width="1" height="23" fill="#c0c0c0"/><rect x="1130" y="682" width="1" height="23" fill="#c0c0c0"/><rect x="1134" y="682" width="1" height="23" fill="#c0c0c0"/><rect x="1138" y="682" width="1" height="22" fill="#c0c0c0"/><rect x="1142" y="682" width="1" height="21" fill="#c0c0c0"/><rect x="1146" y="682" width="1" height="18" fill="#c0c0c0"/><rect x="1150" y="682" width="1" height="16" fill="#c0c0c0"/><rect x="1154" y="682" width="1" height="15" fill="#c0c0c0"/><rect x="1158" y="682" width="1" height="15" fill="#c0c0c0"/><rect x="1162" y="682" width="1" height="15" fill="#c0c0c0"/><rect x="1166" y="682" width="1" height="13" fill="#c0c0c0"/><rect x="1170" y="682" width="1" height="12" fill="#c0c0c0"/><rect x="1174" y="682" width="1" height="13" fill="#c0c0c0"/><rect x="1178" y="682" width="1" height="15" fill="#c0c0c0"/><rect x="1182" y="682" width="1" height="15" fill="#c0c0c0"/><rect x="1186" y="682" width="1" height="15" fill="#c0c0c0"/><rect x="1190" y="682" width="1" height="20" fill="#c0c0c0"/><rect x="1194" y="682" width="1" height="24" fill="#c0c0c0"/><rect x="1198" y="682" width="1" height="26" fill="#c0c0c0"/><rect x="1202" y="682" width="1" height="26" fill="#c0c0c0"/><rect x="1206" y="682" width="1" height="26" fill="#c0c0c0"/><rect x="1210" y="682" width="1" height="25" fill="#c0c0c0"/><rect x="1214" y="682" width="1" height="24" fill="#c0c0c0"/><rect x="1218" y="682" width="1" height="24" fill="#c0c0c0"/><rect x="1222" y="682" width="1" height="23" fill="#c0c0c0"/><rect x="1226" y="682" width="1" height="21" fill="#c0c0c0"/><rect x="1230" y="682" width="1" height="19" fill="#c0c0c0"/><rect x="1234" y="682" width="1" height="17" fill="#c0c0c0"/><rect x="1238" y="682" width="1" height="14" fill="#c0c0c0"/><rect x="1242" y="682" width="1" height="13" fill="#c0c0c0"/><rect x="1246" y="682" width="1" height="14" fill="#c0c0c0"/><rect x="1250" y="682" width="1" height="13" fill="#c0c0c0"/><rect x="1254" y="682" width="1" height="11" fill="#c0c0c0"/><rect x="1258" y="682" width="1" height="8" fill="#c0c0c0"/><rect x="1262" y="682" width="1" height="7" fill="#c0c0c0"/><rect x="1266" y="682" width="1" height="6" fill="#c0c0c0"/><polyline points="2.5,716.2 6.5,715.8 10.5,714.7 14.5,713.0 18.5,710.3 22.5,706.9 26.5,703.0 30.5,698.5 34.5,693.8 38.5,689.3 42.5,684.9 46.5,680.9 50.5,677.5 54.5,674.9 58.5,672.7 62.5,670.6 66.5,669.3 70.5,668.7 74.5,668.6 78.5,669.0 82.5,669.4 86.5,669.7 90.5,670.1 94.5,670.5 98.5,671.0 102.5,671.0 106.5,670.5 110.5,669.6 114.5,668.7 118.5,667.8 122.5,666.9 126.5,666.1 130.5,665.8 134.5,666.0 138.5,667.1 142.5,669.1 146.5,672.0 150.5,675.2 154.5,678.6 158.5,682.3 162.5,685.8 166.5,688.7 170.5,691.1 174.5,692.1 178.5,692.0 182.5,690.7 186.5,689.0 190.5,686.7 194.5,683.4 198.5,678.8 202.5,673.8 206.5,668.2 210.5,663.1 214.5,658.9 218.5,654.8 222.5,651.0 226.5,647.8 230.5,645.5 234.5,644.4 238.5,644.5 242.5,645.1 246.5,646.4 250.5,647.5 254.5,649.0 258.5,650.4 262.5,652.3 266.5,654.3 270.5,656.9 274.5,659.5 278.5,662.5 282.5,665.4 286.5,668.5 290.5,671.5 294.5,674.1 298.5,676.1 302.5,677.7 306.5,678.6 310.5,678.9 314.5,678.8 318.5,678.4 322.5,677.7 326.5,677.0 330.5,676.4 334.5,676.0 338.5,675.7 342.5,675.7 346.5,675.4 350.5,674.8 354.5,673.9 358.5,673.2 362.5,672.3 366.5,671.7 370.5,671.4 374.5,671.0 378.5,670.6 382.5,670.6 386.5,671.1 390.5,671.7 394.5,672.1 398.5,672.6 402.5,672.8 406.5,672.9 410.5,673.0 414.5,673.0 418.5,672.7 422.5,672.2 426.5,671.6 430.5,671.2 434.5,670.5 438.5,669.6 442.5,668.6 446.5,667.5 450.5,666.7 454.5,666.7 458.5,667.1 462.5,667.9 466.5,669.4 470.5,671.9 474.5,674.9 478.5,678.2 482.5,681.8 486.5,685.2 490.5,688.2 494.5,690.8 498.5,693.0 502.5,694.5 506.5,695.5 510.5,695.9 514.5,696.0 518.5,695.7 522.5,695.5 526.5,695.4 530.5,695.2 534.5,695.0 538.5,694.6 542.5,694.1 546.5,693.6 550.5,693.2 554.5,692.8 558.5,692.3 562.5,691.6 566.5,691.0 570.5,691.1 574.5,691.8 578.5,693.0 582.5,694.7 586.5,696.4 590.5,698.2 594.5,700.1 598.5,701.9 602.5,703.9 606.5,705.5 610.5,706.7 614.5,707.5 618.5,707.9 622.5,708.2 626.5,708.2 630.5,707.8 634.5,707.1 638.5,706.0 642.5,704.6 646.5,703.2 650.5,701.7 654.5,700.0 658.5,698.5 662.5,697.3 666.5,696.4 670.5,696.0 674.5,696.3 678.5,697.0 682.5,697.6 686.5,698.3 690.5,699.2 694.5,700.0 698.5,701.1 702.5,702.0 706.5,702.8 710.5,703.2 714.5,703.4 718.5,703.9 722.5,704.7 726.5,705.5 730.5,706.1 734.5,706.3 738.5,706.6 742.5,706.9 746.5,707.3 750.5,707.9 754.5,708.5 758.5,709.2 762.5,710.0 766.5,711.1 770.5,712.6 774.5,714.0 778.5,715.3 782.5,716.5 786.5,717.5 790.5,718.0 794.5,718.2 798.5,718.2 802.5,717.7 806.5,716.9 810.5,716.2 814.5,716.0 818.5,716.2 822.5,716.6 826.5,717.4 830.5,718.1 834.5,718.5 838.5,718.9 842.5,718.9 846.5,718.3 850.5,716.8 854.5,714.5 858.5,711.9 862.5,709.0 866.5,706.3 870.5,704.6 874.5,703.2 878.5,702.5 882.5,702.8 886.5,703.9 890.5,705.4 894.5,707.0 898.5,709.3 902.5,711.8 906.5,713.4 910.5,714.5 914.5,715.4 918.5,715.7 922.5,716.0 926.5,716.2 930.5,716.6 934.5,716.8 938.5,717.0 942.5,717.5 946.5,718.1 950.5,718.7 954.5,718.8 958.5,718.4 962.5,717.4 966.5,715.7 970.5,713.7 974.5,711.2 978.5,708.7 982.5,706.4 986.5,704.6 990.5,703.8 994.5,704.0 998.5,705.3 1002.5,707.0 1006.5,708.9 1010.5,710.7 1014.5,712.8 1018.5,714.6 1022.5,716.2 1026.5,717.3 1030.5,718.2 1034.5,718.8 1038.5,719.3 1042.5,719.8 1046.5,720.3 1050.5,720.5 1054.5,720.5 1058.5,720.2 1062.5,719.6 1066.5,718.6 1070.5,717.2 1074.5,715.7 1078.5,714.1 1082.5,712.5 1086.5,711.4 1090.5,710.9 1094.5,710.9 1098.5,710.9 1102.5,711.2 1106.5,711.5 1110.5,711.7 1114.5,711.8 1118.5,711.7 1122.5,711.3 1126.5,710.5 1130.5,709.5 1134.5,708.5 1138.5,707.4 1142.5,706.3 1146.5,705.1 1150.5,703.9 1154.5,702.8 1158.5,701.9 1162.5,701.0 1166.5,699.9 1170.5,698.7 1174.5,697.7 1178.5,697.0 1182.5,696.7 1186.5,696.7 1190.5,697.3 1194.5,698.3 1198.5,699.6 1202.5,701.0 1206.5,702.6 1210.5,703.9 1214.5,704.9 1218.5,705.9 1222.5,706.7 1226.5,706.8 1230.5,706.2 1234.5,705.2 1238.5,703.8 1242.5,702.4 1246.5,701.0 1250.5,699.9 1254.5,698.4 1258.5,696.8 1262.5,695.2 1266.5,693.8" fill="none" stroke="#ff0000" stroke-width="1" stroke-dasharray="3,3"/>
<g shape-rendering="auto"><text x="1599.5" y="44" fill="#000" font-size="10" textLength="33.43" lengthAdjust="spacingAndGlyphs">7.21600</text><text x="1599.5" y="77" fill="#000" font-size="10" textLength="33.43" lengthAdjust="spacingAndGlyphs">7.16155</text><text x="1599.5" y="110" fill="#000" font-size="10" textLength="33.43" lengthAdjust="spacingAndGlyphs">7.10710</text><text x="1599.5" y="143" fill="#000" font-size="10" textLength="33.43" lengthAdjust="spacingAndGlyphs">7.05100</text><text x="1599.5" y="176" fill="#000" font-size="10" textLength="33.43" lengthAdjust="spacingAndGlyphs">6.99655</text><text x="1599.5" y="209" fill="#000" font-size="10" textLength="33.43" lengthAdjust="spacingAndGlyphs">6.94210</text><text x="1599.5" y="242" fill="#000" font-size="10" textLength="33.43" lengthAdjust="spacingAndGlyphs">6.88765</text><text x="1599.5" y="275" fill="#000" font-size="10" textLength="33.43" lengthAdjust="spacingAndGlyphs">6.83320</text><text x="1599.5" y="308" fill="#000" font-size="10" textLength="33.43" lengthAdjust="spacingAndGlyphs">6.77875</text><text x="1599.5" y="341" fill="#000" font-size="10" textLength="33.43" lengthAdjust="spacingAndGlyphs">6.72265</text><text x="1599.5" y="374" fill="#000" font-size="10" textLength="33.43" lengthAdjust="spacingAndGlyphs">6.66820</text><text x="1599.5" y="407" fill="#000" font-size="10" textLength="33.43" lengthAdjust="spacingAndGlyphs">6.61375</text><text x="1599.5" y="440" fill="#000" font-size="10" textLength="33.43" lengthAdjust="spacingAndGlyphs">6.55930</text><text x="1599.5" y="473" fill="#000" font-size="10" textLength="33.43" lengthAdjust="spacingAndGlyphs">6.50485</text><text x="1599.5" y="506" fill="#000" font-size="10" textLength="33.43" lengthAdjust="spacingAndGlyphs">6.45040</text><text x="1599.5" y="539" fill="#000" font-size="10" textLength="33.43" lengthAdjust="spacingAndGlyphs">6.39595</text><text x="1" y="741.4" fill="#000" font-size="10" textLength="49.54" lengthAdjust="spacingAndGlyphs">22 Jan 2020</text><text x="65" y="741.4" fill="#000" font-size="10" textLength="50.54" lengthAdjust="spacingAndGlyphs">10 Feb 2020</text><text x="129" y="741.4" fill="#000" font-size="10" textLength="50.54" lengthAdjust="spacingAndGlyphs">28 Feb 2020</text><text x="193" y="741.4" fill="#000" font-size="10" textLength="50.53" lengthAdjust="spacingAndGlyphs">18 Mar 2020</text><text x="257" y="741.4" fill="#000" font-size="10" textLength="43.53" lengthAdjust="spacingAndGlyphs">6 Apr 2020</text><text x="321" y="741.4" fill="#000" font-size="10" textLength="48.54" lengthAdjust="spacingAndGlyphs">24 Apr 2020</text><text x="385" y="741.4" fill="#000" font-size="10" textLength="52.03" lengthAdjust="spacingAndGlyphs">13 May 2020</text><text x="449" y="741.4" fill="#000" font-size="10" textLength="44.53" lengthAdjust="spacingAndGlyphs">1 Jun 2020</text><text x="513" y="741.4" fill="#000" font-size="10" textLength="49.54" lengthAdjust="spacingAndGlyphs">19 Jun 2020</text><text x="577" y="741.4" fill="#000" font-size="10" textLength="41.53" lengthAdjust="spacingAndGlyphs">8 Jul 2020</text><text x="641" y="741.4" fill="#000" font-size="10" textLength="46.53" lengthAdjust="spacingAndGlyphs">27 Jul 2020</text><text x="705" y="741.4" fill="#000" font-size="10" textLength="50.55" lengthAdjust="spacingAndGlyphs">14 Aug 2020</text><text x="769" y="741.4" fill="#000" font-size="10" textLength="46.04" lengthAdjust="spacingAndGlyphs">2 Sep 2020</text><text x="833" y="741.4" fill="#000" font-size="10" textLength="51.04" lengthAdjust="spacingAndGlyphs">21 Sep 2020</text><text x="897" y="741.4" fill="#000" font-size="10" textLength="44.03" lengthAdjust="spacingAndGlyphs">9 Oct 2020</text><text x="961" y="741.4" fill="#000" font-size="10" textLength="49.03" lengthAdjust="spacingAndGlyphs">28 Oct 2020</text><text x="1025" y="741.4" fill="#000" font-size="10" textLength="51.03" lengthAdjust="spacingAndGlyphs">16 Nov 2020</text><text x="1089" y="741.4" fill="#000" font-size="10" textLength="46.03" lengthAdjust="spacingAndGlyphs">4 Dec 2020</text><text x="1153" y="741.4" fill="#000" font-size="10" textLength="51.03" lengthAdjust="spacingAndGlyphs">23 Dec 2020</text><text x="1217" y="741.4" fill="#000" font-size="10" textLength="49.54" lengthAdjust="spacingAndGlyphs">12 Jan 2021</text><text x="1599" y="552" fill="#000" font-size="10" textLength="15.26" lengthAdjust="spacingAndGlyphs">100</text><text x="1599" y="574" fill="#000" font-size="10" textLength="10.18" lengthAdjust="spacingAndGlyphs">70</text><text x="1599" y="610" fill="#000" font-size="10" textLength="10.18" lengthAdjust="spacingAndGlyphs">30</text><text x="1599" y="631" fill="#000" font-size="10" textLength="5.09" lengthAdjust="spacingAndGlyphs">0</text><text x="6" y="553.2" fill="#000" font-size="10" textLength="68.16" lengthAdjust="spacingAndGlyphs">RSI(14) 48.9446</text><text x="6" y="648.5" fill="#000" font-size="10" textLength="153.53" lengthAdjust="spacingAndGlyphs">MACD(12,26,9) -0.005458 -0.010409</text><text x="1598" y="647" fill="#000" font-size="10" textLength="38.16" lengthAdjust="spacingAndGlyphs">0.042275</text><text x="1598" y="686" fill="#000" font-size="10" textLength="17.81" lengthAdjust="spacingAndGlyphs">0.00</text><text x="1598" y="725" fill="#000" font-size="10" textLength="36.12" lengthAdjust="spacingAndGlyphs">-0.04148</text><text x="17.3" y="39.4" fill="#000" font-size="10" textLength="65.48" lengthAdjust="spacingAndGlyphs">USDCNH,Daily</text><text x="89" y="39.4" fill="#000" font-size="10" textLength="140.37" lengthAdjust="spacingAndGlyphs">6.48988 6.49316 6.48452 6.48532</text><text x="41.7" y="15" fill="#333" font-size="10" textLength="12.64" lengthAdjust="spacingAndGlyphs">M1</text><text x="69.6" y="15" fill="#333" font-size="10" textLength="12.64" lengthAdjust="spacingAndGlyphs">M5</text><text x="95.7" y="15" fill="#333" font-size="10" textLength="17.70" lengthAdjust="spacingAndGlyphs">M15</text><text x="123.6" y="15" fill="#333" font-size="10" textLength="17.70" lengthAdjust="spacingAndGlyphs">M30</text><text x="154.7" y="15" fill="#333" font-size="10" textLength="11.63" lengthAdjust="spacingAndGlyphs">H1</text><text x="181.7" y="15" fill="#333" font-size="10" textLength="11.63" lengthAdjust="spacingAndGlyphs">H4</text><text x="210.5" y="15" fill="#333" font-size="10" textLength="11.63" lengthAdjust="spacingAndGlyphs">D1</text><text x="238" y="15" fill="#333" font-size="10" textLength="13.65" lengthAdjust="spacingAndGlyphs">W1</text><text x="264.5" y="15" fill="#333" font-size="10" textLength="14.15" lengthAdjust="spacingAndGlyphs">MN</text></g>
<rect x="1596" y="104" width="41" height="11" fill="#ff0000"/><text x="1599.5" y="113" fill="#fff" font-size="10" textLength="32.75" lengthAdjust="spacingAndGlyphs">7.10011</text><rect x="1596" y="164" width="41" height="11" fill="#ff0000"/><text x="1599.5" y="173" fill="#fff" font-size="10" textLength="33.43" lengthAdjust="spacingAndGlyphs">7.00029</text><rect x="1596" y="231" width="41" height="11" fill="#ff0000"/><text x="1599.5" y="240" fill="#fff" font-size="10" textLength="33.43" lengthAdjust="spacingAndGlyphs">6.88897</text><rect x="1596" y="308" width="41" height="11" fill="#ff0000"/><text x="1599.5" y="317" fill="#fff" font-size="10" textLength="33.43" lengthAdjust="spacingAndGlyphs">6.76157</text><rect x="1596" y="389" width="41" height="11" fill="#00ff00"/><text x="1599.5" y="398" fill="#fff" font-size="10" textLength="33.43" lengthAdjust="spacingAndGlyphs">6.62646</text><rect x="1596" y="448" width="41" height="11" fill="#0000ff"/><text x="1599.5" y="457" fill="#fff" font-size="10" textLength="33.43" lengthAdjust="spacingAndGlyphs">6.52865</text><rect x="1596" y="476" width="41" height="11" fill="#000"/><text x="1599.5" y="485" fill="#fff" font-size="10" textLength="33.43" lengthAdjust="spacingAndGlyphs">6.48532</text>
<rect x="0" y="749" width="1638" height="1" fill="#e3e3e3"/><rect x="0" y="750" width="1638" height="1" fill="#ffffff"/><rect x="0" y="751" width="1638" height="1" fill="#000"/><rect x="0" y="752" width="1638" height="1" fill="#ffffff"/><rect x="0" y="753" width="1638" height="18" fill="#f0f0f0"/><rect x="0" y="771" width="1638" height="1" fill="#ffffff"/><rect x="0" y="772" width="1638" height="2" fill="#e8e8e8"/><text x="15.5" y="766" fill="#666" font-size="12">EURUSD,Daily</text><text x="117" y="766" fill="#666" font-size="12">USDCHF,Daily</text><text x="218" y="766" fill="#666" font-size="12">AUDUSD,Daily</text><text x="322" y="766" fill="#666" font-size="12">USDCAD,Daily</text><text x="531" y="766" fill="#666" font-size="12">EURUSD,Daily</text><text x="635" y="766" fill="#666" font-size="12">GBPUSD,H4</text><text x="725.5" y="766" fill="#666" font-size="12">XAUUSD,H4</text><text x="818" y="766" fill="#666" font-size="12">HK50,H1</text><text x="890" y="766" fill="#666" font-size="12">UK100,H1</text><text x="970" y="766" fill="#666" font-size="12">UK100,H1</text><text x="1050" y="766" fill="#666" font-size="12">GER30,H1</text><text x="1129" y="766" fill="#666" font-size="12">FRA40,H1</text><text x="1206" y="766" fill="#666" font-size="12">USOil,Weekly</text><text x="1305" y="766" fill="#666" font-size="12">USDJPY,H1</text><text x="1389" y="766" fill="#666" font-size="12">DJ30,Daily</text><text x="1469" y="766" fill="#666" font-size="12">CHINA300,H1</text><text x="1568.5" y="766" fill="#666" font-size="12">USOil,</text><rect x="107" y="754" width="1" height="14" fill="#555"/><rect x="207" y="754" width="1" height="14" fill="#555"/><rect x="311" y="754" width="1" height="14" fill="#555"/><rect x="623" y="754" width="1" height="14" fill="#555"/><rect x="715" y="754" width="1" height="14" fill="#555"/><rect x="807" y="754" width="1" height="14" fill="#555"/><rect x="878" y="754" width="1" height="14" fill="#555"/><rect x="959" y="754" width="1" height="14" fill="#555"/><rect x="1039" y="754" width="1" height="14" fill="#555"/><rect x="1119" y="754" width="1" height="14" fill="#555"/><rect x="1195" y="754" width="1" height="14" fill="#555"/><rect x="1295" y="754" width="1" height="14" fill="#555"/><rect x="1379" y="754" width="1" height="14" fill="#555"/><rect x="1459" y="754" width="1" height="14" fill="#555"/><rect x="1559" y="754" width="1" height="14" fill="#555"/><rect x="416" y="751" width="102" height="18" fill="#fff"/><rect x="415" y="751" width="1" height="19" fill="#000"/><rect x="518" y="751" width="1" height="19" fill="#000"/><rect x="415" y="769" width="104" height="1" fill="#000"/><text x="425.5" y="766" fill="#000" font-size="12">USDCNH,Daily</text><rect x="1604" y="753" width="34" height="18" fill="#f0f0f0"/><path d="M1613 757 L1610 760 L1613 763 Z" fill="#909090"/><path d="M1629 757 L1632 760 L1629 763 Z" fill="#000"/>
</svg>
</body></html>
